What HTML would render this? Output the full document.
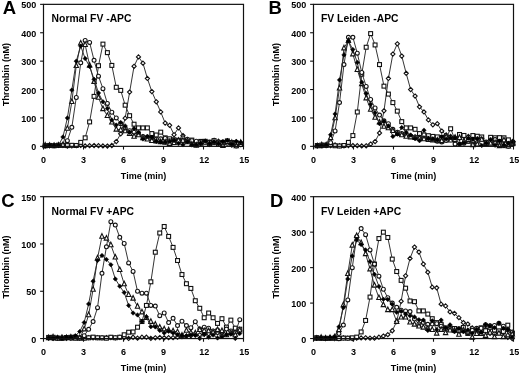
<!DOCTYPE html>
<html><head><meta charset="utf-8"><style>
html,body{margin:0;padding:0;background:#fff;width:520px;height:374px;overflow:hidden;}
svg{display:block;will-change:transform;}
text{font-family:"Liberation Sans", sans-serif;font-weight:bold;fill:#000;}
.tk{font-size:9px;}
.at{font-size:9px;}
.tt{font-size:10.35px;}
.lt{font-size:18.5px;}
.ln{fill:none;stroke:#2a2a2a;stroke-width:0.95;}
.o{fill:#fff;stroke:#111;stroke-width:1.1;}
.f{fill:#000;stroke:#000;stroke-width:0.5;}
.box{fill:none;stroke:#111;stroke-width:1.2;}
.ax{stroke:#111;stroke-width:1.1;}
</style></head>
<body><svg width="520" height="374" viewBox="0 0 520 374">
<rect width="520" height="374" fill="#fff"/>
<path d="M45.17 145.75L49.61 145.86L54.06 145.69L58.50 145.31L62.94 145.25L67.39 146.11L71.83 145.93L76.28 145.71L80.72 145.41L85.17 145.89L89.61 145.64L94.06 145.58L98.50 145.70L102.94 145.88L107.39 146.10L111.83 145.50L116.28 141.52L120.72 133.85L125.17 118.23L129.61 92.10L134.06 66.26L138.50 56.89L142.94 63.14L147.39 78.47L151.83 91.54L156.28 101.76L160.72 111.98L165.17 123.06L169.61 125.33L174.06 134.71L178.50 127.89L182.94 135.56L187.39 140.67L191.83 142.09L196.28 143.69L200.72 143.09L205.17 141.29L209.61 144.44L214.06 140.33L218.50 141.25L222.94 143.54L227.39 141.24L231.83 145.21L236.28 141.72L240.72 144.38" class="ln"/>
<path d="M45.17 143.65L47.27 145.75L45.17 147.85L43.07 145.75Z" class="o"/>
<path d="M49.61 143.76L51.71 145.86L49.61 147.96L47.51 145.86Z" class="o"/>
<path d="M54.06 143.59L56.16 145.69L54.06 147.79L51.96 145.69Z" class="o"/>
<path d="M58.50 143.21L60.60 145.31L58.50 147.41L56.40 145.31Z" class="o"/>
<path d="M62.94 143.15L65.04 145.25L62.94 147.35L60.84 145.25Z" class="o"/>
<path d="M67.39 144.01L69.49 146.11L67.39 148.21L65.29 146.11Z" class="o"/>
<path d="M71.83 143.83L73.93 145.93L71.83 148.03L69.73 145.93Z" class="o"/>
<path d="M76.28 143.61L78.38 145.71L76.28 147.81L74.18 145.71Z" class="o"/>
<path d="M80.72 143.31L82.82 145.41L80.72 147.51L78.62 145.41Z" class="o"/>
<path d="M85.17 143.79L87.27 145.89L85.17 147.99L83.07 145.89Z" class="o"/>
<path d="M89.61 143.54L91.71 145.64L89.61 147.74L87.51 145.64Z" class="o"/>
<path d="M94.06 143.48L96.16 145.58L94.06 147.68L91.96 145.58Z" class="o"/>
<path d="M98.50 143.60L100.60 145.70L98.50 147.80L96.40 145.70Z" class="o"/>
<path d="M102.94 143.78L105.04 145.88L102.94 147.98L100.84 145.88Z" class="o"/>
<path d="M107.39 144.00L109.49 146.10L107.39 148.20L105.29 146.10Z" class="o"/>
<path d="M111.83 143.40L113.93 145.50L111.83 147.60L109.73 145.50Z" class="o"/>
<path d="M116.28 139.42L118.38 141.52L116.28 143.62L114.18 141.52Z" class="o"/>
<path d="M120.72 131.75L122.82 133.85L120.72 135.95L118.62 133.85Z" class="o"/>
<path d="M125.17 116.13L127.27 118.23L125.17 120.33L123.07 118.23Z" class="o"/>
<path d="M129.61 90.00L131.71 92.10L129.61 94.20L127.51 92.10Z" class="o"/>
<path d="M134.06 64.16L136.16 66.26L134.06 68.36L131.96 66.26Z" class="o"/>
<path d="M138.50 54.79L140.60 56.89L138.50 58.99L136.40 56.89Z" class="o"/>
<path d="M142.94 61.04L145.04 63.14L142.94 65.24L140.84 63.14Z" class="o"/>
<path d="M147.39 76.37L149.49 78.47L147.39 80.57L145.29 78.47Z" class="o"/>
<path d="M151.83 89.44L153.93 91.54L151.83 93.64L149.73 91.54Z" class="o"/>
<path d="M156.28 99.66L158.38 101.76L156.28 103.86L154.18 101.76Z" class="o"/>
<path d="M160.72 109.88L162.82 111.98L160.72 114.08L158.62 111.98Z" class="o"/>
<path d="M165.17 120.96L167.27 123.06L165.17 125.16L163.07 123.06Z" class="o"/>
<path d="M169.61 123.23L171.71 125.33L169.61 127.43L167.51 125.33Z" class="o"/>
<path d="M174.06 132.61L176.16 134.71L174.06 136.81L171.96 134.71Z" class="o"/>
<path d="M178.50 125.79L180.60 127.89L178.50 129.99L176.40 127.89Z" class="o"/>
<path d="M182.94 133.46L185.04 135.56L182.94 137.66L180.84 135.56Z" class="o"/>
<path d="M187.39 138.57L189.49 140.67L187.39 142.77L185.29 140.67Z" class="o"/>
<path d="M191.83 139.99L193.93 142.09L191.83 144.19L189.73 142.09Z" class="o"/>
<path d="M196.28 141.59L198.38 143.69L196.28 145.79L194.18 143.69Z" class="o"/>
<path d="M200.72 140.99L202.82 143.09L200.72 145.19L198.62 143.09Z" class="o"/>
<path d="M205.17 139.19L207.27 141.29L205.17 143.39L203.07 141.29Z" class="o"/>
<path d="M209.61 142.34L211.71 144.44L209.61 146.54L207.51 144.44Z" class="o"/>
<path d="M214.06 138.23L216.16 140.33L214.06 142.43L211.96 140.33Z" class="o"/>
<path d="M218.50 139.15L220.60 141.25L218.50 143.35L216.40 141.25Z" class="o"/>
<path d="M222.94 141.44L225.04 143.54L222.94 145.64L220.84 143.54Z" class="o"/>
<path d="M227.39 139.14L229.49 141.24L227.39 143.34L225.29 141.24Z" class="o"/>
<path d="M231.83 143.11L233.93 145.21L231.83 147.31L229.73 145.21Z" class="o"/>
<path d="M236.28 139.62L238.38 141.72L236.28 143.82L234.18 141.72Z" class="o"/>
<path d="M240.72 142.28L242.82 144.38L240.72 146.48L238.62 144.38Z" class="o"/>
<path d="M45.17 145.84L49.61 145.43L54.06 145.82L58.50 145.19L62.94 145.36L67.39 145.58L71.83 145.30L76.28 145.50L80.72 142.37L85.17 137.83L89.61 121.92L94.06 96.37L98.50 65.69L102.94 44.11L107.39 52.63L111.83 65.41L116.28 87.28L120.72 90.40L125.17 105.17L129.61 115.68L134.06 124.20L138.50 127.89L142.94 127.89L147.39 127.89L151.83 133.57L156.28 134.99L160.72 132.15L165.17 137.83L169.61 138.78L174.06 139.72L178.50 140.67L182.94 140.66L187.39 141.73L191.83 140.08L196.28 143.10L200.72 141.40L205.17 141.33L209.61 142.17L214.06 140.61L218.50 143.00L222.94 142.37L227.39 140.89L231.83 142.53L236.28 142.84L240.72 143.96" class="ln"/>
<rect x="43.22" y="143.89" width="3.90" height="3.90" class="o"/>
<rect x="47.66" y="143.48" width="3.90" height="3.90" class="o"/>
<rect x="52.11" y="143.87" width="3.90" height="3.90" class="o"/>
<rect x="56.55" y="143.24" width="3.90" height="3.90" class="o"/>
<rect x="60.99" y="143.41" width="3.90" height="3.90" class="o"/>
<rect x="65.44" y="143.63" width="3.90" height="3.90" class="o"/>
<rect x="69.88" y="143.35" width="3.90" height="3.90" class="o"/>
<rect x="74.33" y="143.55" width="3.90" height="3.90" class="o"/>
<rect x="78.77" y="140.42" width="3.90" height="3.90" class="o"/>
<rect x="83.22" y="135.88" width="3.90" height="3.90" class="o"/>
<rect x="87.66" y="119.97" width="3.90" height="3.90" class="o"/>
<rect x="92.11" y="94.42" width="3.90" height="3.90" class="o"/>
<rect x="96.55" y="63.74" width="3.90" height="3.90" class="o"/>
<rect x="100.99" y="42.16" width="3.90" height="3.90" class="o"/>
<rect x="105.44" y="50.68" width="3.90" height="3.90" class="o"/>
<rect x="109.88" y="63.46" width="3.90" height="3.90" class="o"/>
<rect x="114.33" y="85.33" width="3.90" height="3.90" class="o"/>
<rect x="118.77" y="88.45" width="3.90" height="3.90" class="o"/>
<rect x="123.22" y="103.22" width="3.90" height="3.90" class="o"/>
<rect x="127.66" y="113.73" width="3.90" height="3.90" class="o"/>
<rect x="132.11" y="122.25" width="3.90" height="3.90" class="o"/>
<rect x="136.55" y="125.94" width="3.90" height="3.90" class="o"/>
<rect x="140.99" y="125.94" width="3.90" height="3.90" class="o"/>
<rect x="145.44" y="125.94" width="3.90" height="3.90" class="o"/>
<rect x="149.88" y="131.62" width="3.90" height="3.90" class="o"/>
<rect x="154.33" y="133.04" width="3.90" height="3.90" class="o"/>
<rect x="158.77" y="130.20" width="3.90" height="3.90" class="o"/>
<rect x="163.22" y="135.88" width="3.90" height="3.90" class="o"/>
<rect x="167.66" y="136.83" width="3.90" height="3.90" class="o"/>
<rect x="172.11" y="137.77" width="3.90" height="3.90" class="o"/>
<rect x="176.55" y="138.72" width="3.90" height="3.90" class="o"/>
<rect x="180.99" y="138.71" width="3.90" height="3.90" class="o"/>
<rect x="185.44" y="139.78" width="3.90" height="3.90" class="o"/>
<rect x="189.88" y="138.13" width="3.90" height="3.90" class="o"/>
<rect x="194.33" y="141.15" width="3.90" height="3.90" class="o"/>
<rect x="198.77" y="139.45" width="3.90" height="3.90" class="o"/>
<rect x="203.22" y="139.38" width="3.90" height="3.90" class="o"/>
<rect x="207.66" y="140.22" width="3.90" height="3.90" class="o"/>
<rect x="212.11" y="138.66" width="3.90" height="3.90" class="o"/>
<rect x="216.55" y="141.05" width="3.90" height="3.90" class="o"/>
<rect x="220.99" y="140.42" width="3.90" height="3.90" class="o"/>
<rect x="225.44" y="138.94" width="3.90" height="3.90" class="o"/>
<rect x="229.88" y="140.58" width="3.90" height="3.90" class="o"/>
<rect x="234.33" y="140.89" width="3.90" height="3.90" class="o"/>
<rect x="238.77" y="142.01" width="3.90" height="3.90" class="o"/>
<path d="M45.17 145.50L49.61 145.54L54.06 145.21L58.50 145.58L62.94 144.93L67.39 140.67L71.83 127.32L76.28 97.50L80.72 62.86L85.17 40.42L89.61 42.41L94.06 60.30L98.50 76.20L102.94 88.70L107.39 103.46L111.83 112.27L116.28 117.95L120.72 123.63L125.17 127.89L129.61 130.73L134.06 132.15L138.50 133.57L142.94 136.41L147.39 137.12L151.83 137.83L156.28 139.25L160.72 138.82L165.17 138.40L169.61 140.67L174.06 140.39L178.50 140.10L182.94 137.83L187.39 139.25L191.83 140.67L196.28 141.14L200.72 141.62L205.17 142.09L209.61 142.37L214.06 142.66L218.50 142.94L222.94 143.13L227.39 143.32L231.83 143.51L236.28 146.11L240.72 144.84" class="ln"/>
<circle cx="45.17" cy="145.50" r="1.95" class="o"/>
<circle cx="49.61" cy="145.54" r="1.95" class="o"/>
<circle cx="54.06" cy="145.21" r="1.95" class="o"/>
<circle cx="58.50" cy="145.58" r="1.95" class="o"/>
<circle cx="62.94" cy="144.93" r="1.95" class="o"/>
<circle cx="67.39" cy="140.67" r="1.95" class="o"/>
<circle cx="71.83" cy="127.32" r="1.95" class="o"/>
<circle cx="76.28" cy="97.50" r="1.95" class="o"/>
<circle cx="80.72" cy="62.86" r="1.95" class="o"/>
<circle cx="85.17" cy="40.42" r="1.95" class="o"/>
<circle cx="89.61" cy="42.41" r="1.95" class="o"/>
<circle cx="94.06" cy="60.30" r="1.95" class="o"/>
<circle cx="98.50" cy="76.20" r="1.95" class="o"/>
<circle cx="102.94" cy="88.70" r="1.95" class="o"/>
<circle cx="107.39" cy="103.46" r="1.95" class="o"/>
<circle cx="111.83" cy="112.27" r="1.95" class="o"/>
<circle cx="116.28" cy="117.95" r="1.95" class="o"/>
<circle cx="120.72" cy="123.63" r="1.95" class="o"/>
<circle cx="125.17" cy="127.89" r="1.95" class="o"/>
<circle cx="129.61" cy="130.73" r="1.95" class="o"/>
<circle cx="134.06" cy="132.15" r="1.95" class="o"/>
<circle cx="138.50" cy="133.57" r="1.95" class="o"/>
<circle cx="142.94" cy="136.41" r="1.95" class="o"/>
<circle cx="147.39" cy="137.12" r="1.95" class="o"/>
<circle cx="151.83" cy="137.83" r="1.95" class="o"/>
<circle cx="156.28" cy="139.25" r="1.95" class="o"/>
<circle cx="160.72" cy="138.82" r="1.95" class="o"/>
<circle cx="165.17" cy="138.40" r="1.95" class="o"/>
<circle cx="169.61" cy="140.67" r="1.95" class="o"/>
<circle cx="174.06" cy="140.39" r="1.95" class="o"/>
<circle cx="178.50" cy="140.10" r="1.95" class="o"/>
<circle cx="182.94" cy="137.83" r="1.95" class="o"/>
<circle cx="187.39" cy="139.25" r="1.95" class="o"/>
<circle cx="191.83" cy="140.67" r="1.95" class="o"/>
<circle cx="196.28" cy="141.14" r="1.95" class="o"/>
<circle cx="200.72" cy="141.62" r="1.95" class="o"/>
<circle cx="205.17" cy="142.09" r="1.95" class="o"/>
<circle cx="209.61" cy="142.37" r="1.95" class="o"/>
<circle cx="214.06" cy="142.66" r="1.95" class="o"/>
<circle cx="218.50" cy="142.94" r="1.95" class="o"/>
<circle cx="222.94" cy="143.13" r="1.95" class="o"/>
<circle cx="227.39" cy="143.32" r="1.95" class="o"/>
<circle cx="231.83" cy="143.51" r="1.95" class="o"/>
<circle cx="236.28" cy="146.11" r="1.95" class="o"/>
<circle cx="240.72" cy="144.84" r="1.95" class="o"/>
<path d="M45.17 145.31L49.61 145.60L54.06 145.71L58.50 145.23L62.94 144.93L67.39 128.46L71.83 101.76L76.28 65.69L80.72 43.26L85.17 44.68L89.61 65.41L94.06 81.60L98.50 97.50L102.94 108.86L107.39 115.68L111.83 122.21L116.28 129.31L120.72 129.88L125.17 131.01L129.61 133.57L134.06 136.41L138.50 134.99L142.94 137.83L147.39 139.25L151.83 140.67L156.28 141.24L160.72 141.81L165.17 142.37L169.61 143.53L174.06 142.72L178.50 140.52L182.94 140.42L187.39 140.65L191.83 144.28L196.28 145.32L200.72 143.36L205.17 142.52L209.61 143.91L214.06 142.42L218.50 144.17L222.94 145.76L227.39 141.84L231.83 142.69L236.28 145.94L240.72 142.59" class="ln"/>
<path d="M45.17 142.51L47.37 147.11L42.97 147.11Z" class="o"/>
<path d="M49.61 142.80L51.81 147.40L47.41 147.40Z" class="o"/>
<path d="M54.06 142.91L56.26 147.51L51.86 147.51Z" class="o"/>
<path d="M58.50 142.43L60.70 147.03L56.30 147.03Z" class="o"/>
<path d="M62.94 142.13L65.14 146.73L60.74 146.73Z" class="o"/>
<path d="M67.39 125.66L69.59 130.26L65.19 130.26Z" class="o"/>
<path d="M71.83 98.96L74.03 103.56L69.63 103.56Z" class="o"/>
<path d="M76.28 62.89L78.48 67.49L74.08 67.49Z" class="o"/>
<path d="M80.72 40.46L82.92 45.06L78.52 45.06Z" class="o"/>
<path d="M85.17 41.88L87.37 46.48L82.97 46.48Z" class="o"/>
<path d="M89.61 62.61L91.81 67.21L87.41 67.21Z" class="o"/>
<path d="M94.06 78.80L96.26 83.40L91.86 83.40Z" class="o"/>
<path d="M98.50 94.70L100.70 99.30L96.30 99.30Z" class="o"/>
<path d="M102.94 106.06L105.14 110.66L100.74 110.66Z" class="o"/>
<path d="M107.39 112.88L109.59 117.48L105.19 117.48Z" class="o"/>
<path d="M111.83 119.41L114.03 124.01L109.63 124.01Z" class="o"/>
<path d="M116.28 126.51L118.48 131.11L114.08 131.11Z" class="o"/>
<path d="M120.72 127.08L122.92 131.68L118.52 131.68Z" class="o"/>
<path d="M125.17 128.21L127.37 132.81L122.97 132.81Z" class="o"/>
<path d="M129.61 130.77L131.81 135.37L127.41 135.37Z" class="o"/>
<path d="M134.06 133.61L136.26 138.21L131.86 138.21Z" class="o"/>
<path d="M138.50 132.19L140.70 136.79L136.30 136.79Z" class="o"/>
<path d="M142.94 135.03L145.14 139.63L140.74 139.63Z" class="o"/>
<path d="M147.39 136.45L149.59 141.05L145.19 141.05Z" class="o"/>
<path d="M151.83 137.87L154.03 142.47L149.63 142.47Z" class="o"/>
<path d="M156.28 138.44L158.48 143.04L154.08 143.04Z" class="o"/>
<path d="M160.72 139.01L162.92 143.61L158.52 143.61Z" class="o"/>
<path d="M165.17 139.57L167.37 144.17L162.97 144.17Z" class="o"/>
<path d="M169.61 140.73L171.81 145.33L167.41 145.33Z" class="o"/>
<path d="M174.06 139.92L176.26 144.52L171.86 144.52Z" class="o"/>
<path d="M178.50 137.72L180.70 142.32L176.30 142.32Z" class="o"/>
<path d="M182.94 137.62L185.14 142.22L180.74 142.22Z" class="o"/>
<path d="M187.39 137.85L189.59 142.45L185.19 142.45Z" class="o"/>
<path d="M191.83 141.48L194.03 146.08L189.63 146.08Z" class="o"/>
<path d="M196.28 142.52L198.48 147.12L194.08 147.12Z" class="o"/>
<path d="M200.72 140.56L202.92 145.16L198.52 145.16Z" class="o"/>
<path d="M205.17 139.72L207.37 144.32L202.97 144.32Z" class="o"/>
<path d="M209.61 141.11L211.81 145.71L207.41 145.71Z" class="o"/>
<path d="M214.06 139.62L216.26 144.22L211.86 144.22Z" class="o"/>
<path d="M218.50 141.37L220.70 145.97L216.30 145.97Z" class="o"/>
<path d="M222.94 142.96L225.14 147.56L220.74 147.56Z" class="o"/>
<path d="M227.39 139.04L229.59 143.64L225.19 143.64Z" class="o"/>
<path d="M231.83 139.89L234.03 144.49L229.63 144.49Z" class="o"/>
<path d="M236.28 143.14L238.48 147.74L234.08 147.74Z" class="o"/>
<path d="M240.72 139.79L242.92 144.39L238.52 144.39Z" class="o"/>
<path d="M45.17 146.01L49.61 145.39L54.06 145.49L58.50 145.50L62.94 136.98L67.39 117.95L71.83 90.12L76.28 61.15L80.72 46.10L85.17 58.59L89.61 66.55L94.06 79.32L98.50 92.96L102.94 101.76L107.39 108.58L111.83 119.94L116.28 125.05L120.72 122.49L125.17 125.90L129.61 132.15L134.06 128.46L138.50 132.15L142.94 138.97L147.39 136.41L151.83 137.26L156.28 141.52L160.72 141.95L165.17 142.37L169.61 141.26L174.06 140.50L178.50 143.54L182.94 144.84L187.39 141.77L191.83 144.98L196.28 145.05L200.72 143.46L205.17 141.21L209.61 143.83L214.06 142.29L218.50 143.67L222.94 141.39L227.39 140.45L231.83 143.97L236.28 141.41L240.72 142.31" class="ln"/>
<path d="M45.17 143.76L47.42 146.01L45.17 148.26L42.92 146.01Z" class="f"/>
<path d="M49.61 143.14L51.86 145.39L49.61 147.64L47.36 145.39Z" class="f"/>
<path d="M54.06 143.24L56.31 145.49L54.06 147.74L51.81 145.49Z" class="f"/>
<path d="M58.50 143.25L60.75 145.50L58.50 147.75L56.25 145.50Z" class="f"/>
<path d="M62.94 134.73L65.19 136.98L62.94 139.23L60.69 136.98Z" class="f"/>
<path d="M67.39 115.70L69.64 117.95L67.39 120.20L65.14 117.95Z" class="f"/>
<path d="M71.83 87.87L74.08 90.12L71.83 92.37L69.58 90.12Z" class="f"/>
<path d="M76.28 58.90L78.53 61.15L76.28 63.40L74.03 61.15Z" class="f"/>
<path d="M80.72 43.85L82.97 46.10L80.72 48.35L78.47 46.10Z" class="f"/>
<path d="M85.17 56.34L87.42 58.59L85.17 60.84L82.92 58.59Z" class="f"/>
<path d="M89.61 64.30L91.86 66.55L89.61 68.80L87.36 66.55Z" class="f"/>
<path d="M94.06 77.07L96.31 79.32L94.06 81.57L91.81 79.32Z" class="f"/>
<path d="M98.50 90.71L100.75 92.96L98.50 95.21L96.25 92.96Z" class="f"/>
<path d="M102.94 99.51L105.19 101.76L102.94 104.01L100.69 101.76Z" class="f"/>
<path d="M107.39 106.33L109.64 108.58L107.39 110.83L105.14 108.58Z" class="f"/>
<path d="M111.83 117.69L114.08 119.94L111.83 122.19L109.58 119.94Z" class="f"/>
<path d="M116.28 122.80L118.53 125.05L116.28 127.30L114.03 125.05Z" class="f"/>
<path d="M120.72 120.24L122.97 122.49L120.72 124.74L118.47 122.49Z" class="f"/>
<path d="M125.17 123.65L127.42 125.90L125.17 128.15L122.92 125.90Z" class="f"/>
<path d="M129.61 129.90L131.86 132.15L129.61 134.40L127.36 132.15Z" class="f"/>
<path d="M134.06 126.21L136.31 128.46L134.06 130.71L131.81 128.46Z" class="f"/>
<path d="M138.50 129.90L140.75 132.15L138.50 134.40L136.25 132.15Z" class="f"/>
<path d="M142.94 136.72L145.19 138.97L142.94 141.22L140.69 138.97Z" class="f"/>
<path d="M147.39 134.16L149.64 136.41L147.39 138.66L145.14 136.41Z" class="f"/>
<path d="M151.83 135.01L154.08 137.26L151.83 139.51L149.58 137.26Z" class="f"/>
<path d="M156.28 139.27L158.53 141.52L156.28 143.77L154.03 141.52Z" class="f"/>
<path d="M160.72 139.70L162.97 141.95L160.72 144.20L158.47 141.95Z" class="f"/>
<path d="M165.17 140.12L167.42 142.37L165.17 144.62L162.92 142.37Z" class="f"/>
<path d="M169.61 139.01L171.86 141.26L169.61 143.51L167.36 141.26Z" class="f"/>
<path d="M174.06 138.25L176.31 140.50L174.06 142.75L171.81 140.50Z" class="f"/>
<path d="M178.50 141.29L180.75 143.54L178.50 145.79L176.25 143.54Z" class="f"/>
<path d="M182.94 142.59L185.19 144.84L182.94 147.09L180.69 144.84Z" class="f"/>
<path d="M187.39 139.52L189.64 141.77L187.39 144.02L185.14 141.77Z" class="f"/>
<path d="M191.83 142.73L194.08 144.98L191.83 147.23L189.58 144.98Z" class="f"/>
<path d="M196.28 142.80L198.53 145.05L196.28 147.30L194.03 145.05Z" class="f"/>
<path d="M200.72 141.21L202.97 143.46L200.72 145.71L198.47 143.46Z" class="f"/>
<path d="M205.17 138.96L207.42 141.21L205.17 143.46L202.92 141.21Z" class="f"/>
<path d="M209.61 141.58L211.86 143.83L209.61 146.08L207.36 143.83Z" class="f"/>
<path d="M214.06 140.04L216.31 142.29L214.06 144.54L211.81 142.29Z" class="f"/>
<path d="M218.50 141.42L220.75 143.67L218.50 145.92L216.25 143.67Z" class="f"/>
<path d="M222.94 139.14L225.19 141.39L222.94 143.64L220.69 141.39Z" class="f"/>
<path d="M227.39 138.20L229.64 140.45L227.39 142.70L225.14 140.45Z" class="f"/>
<path d="M231.83 141.72L234.08 143.97L231.83 146.22L229.58 143.97Z" class="f"/>
<path d="M236.28 139.16L238.53 141.41L236.28 143.66L234.03 141.41Z" class="f"/>
<path d="M240.72 140.06L242.97 142.31L240.72 144.56L238.47 142.31Z" class="f"/>
<rect x="43.5" y="4.35" width="200.0" height="142.0" class="box"/>
<line x1="40.1" y1="146.35" x2="43.5" y2="146.35" class="ax"/>
<text x="36.3" y="150.30" class="tk" text-anchor="end">0</text>
<line x1="40.1" y1="117.95" x2="43.5" y2="117.95" class="ax"/>
<text x="36.3" y="121.90" class="tk" text-anchor="end">100</text>
<line x1="40.1" y1="89.55" x2="43.5" y2="89.55" class="ax"/>
<text x="36.3" y="93.50" class="tk" text-anchor="end">200</text>
<line x1="40.1" y1="61.15" x2="43.5" y2="61.15" class="ax"/>
<text x="36.3" y="65.10" class="tk" text-anchor="end">300</text>
<line x1="40.1" y1="32.75" x2="43.5" y2="32.75" class="ax"/>
<text x="36.3" y="36.70" class="tk" text-anchor="end">400</text>
<line x1="40.1" y1="4.35" x2="43.5" y2="4.35" class="ax"/>
<text x="36.3" y="8.30" class="tk" text-anchor="end">500</text>
<line x1="43.50" y1="146.35" x2="43.50" y2="149.54999999999998" class="ax"/>
<text x="43.50" y="163.20" class="tk" text-anchor="middle">0</text>
<line x1="83.50" y1="146.35" x2="83.50" y2="149.54999999999998" class="ax"/>
<text x="83.50" y="163.20" class="tk" text-anchor="middle">3</text>
<line x1="123.50" y1="146.35" x2="123.50" y2="149.54999999999998" class="ax"/>
<text x="123.50" y="163.20" class="tk" text-anchor="middle">6</text>
<line x1="163.50" y1="146.35" x2="163.50" y2="149.54999999999998" class="ax"/>
<text x="163.50" y="163.20" class="tk" text-anchor="middle">9</text>
<line x1="203.50" y1="146.35" x2="203.50" y2="149.54999999999998" class="ax"/>
<text x="204.20" y="163.20" class="tk" text-anchor="middle">12</text>
<line x1="243.50" y1="146.35" x2="243.50" y2="149.54999999999998" class="ax"/>
<text x="244.20" y="163.20" class="tk" text-anchor="middle">15</text>
<text x="143.50" y="178.65" class="at" text-anchor="middle">Time (min)</text>
<text transform="translate(8.90 74.40) rotate(-90)" class="at" text-anchor="middle">Thrombin (nM)</text>
<text x="51.6" y="22.0" class="tt">Normal FV -APC</text>
<text x="2.85" y="14.3" class="lt">A</text>
<path d="M317.30 145.85L321.74 145.24L326.19 145.18L330.63 145.72L335.08 145.00L339.52 145.68L343.97 145.82L348.41 145.56L352.86 145.59L357.30 145.71L361.74 145.99L366.19 145.82L370.63 144.08L375.08 141.52L379.52 133.00L383.97 110.85L388.41 78.47L392.86 54.05L397.30 43.83L401.74 56.04L406.19 73.36L410.63 89.55L415.08 96.08L419.52 106.87L423.97 111.99L428.41 119.94L432.86 124.77L437.30 123.63L441.74 131.01L446.19 134.99L450.63 136.41L455.08 137.40L459.52 138.40L463.97 136.60L468.41 136.48L472.86 141.95L477.30 138.01L481.74 138.31L486.19 143.55L490.63 139.46L495.08 142.29L499.52 140.51L503.97 141.06L508.41 142.01L512.86 141.40" class="ln"/>
<path d="M317.30 143.75L319.40 145.85L317.30 147.95L315.20 145.85Z" class="o"/>
<path d="M321.74 143.14L323.84 145.24L321.74 147.34L319.64 145.24Z" class="o"/>
<path d="M326.19 143.08L328.29 145.18L326.19 147.28L324.09 145.18Z" class="o"/>
<path d="M330.63 143.62L332.73 145.72L330.63 147.82L328.53 145.72Z" class="o"/>
<path d="M335.08 142.90L337.18 145.00L335.08 147.10L332.98 145.00Z" class="o"/>
<path d="M339.52 143.58L341.62 145.68L339.52 147.78L337.42 145.68Z" class="o"/>
<path d="M343.97 143.72L346.07 145.82L343.97 147.92L341.87 145.82Z" class="o"/>
<path d="M348.41 143.46L350.51 145.56L348.41 147.66L346.31 145.56Z" class="o"/>
<path d="M352.86 143.49L354.96 145.59L352.86 147.69L350.76 145.59Z" class="o"/>
<path d="M357.30 143.61L359.40 145.71L357.30 147.81L355.20 145.71Z" class="o"/>
<path d="M361.74 143.89L363.84 145.99L361.74 148.09L359.64 145.99Z" class="o"/>
<path d="M366.19 143.72L368.29 145.82L366.19 147.92L364.09 145.82Z" class="o"/>
<path d="M370.63 141.98L372.73 144.08L370.63 146.18L368.53 144.08Z" class="o"/>
<path d="M375.08 139.42L377.18 141.52L375.08 143.62L372.98 141.52Z" class="o"/>
<path d="M379.52 130.90L381.62 133.00L379.52 135.10L377.42 133.00Z" class="o"/>
<path d="M383.97 108.75L386.07 110.85L383.97 112.95L381.87 110.85Z" class="o"/>
<path d="M388.41 76.37L390.51 78.47L388.41 80.57L386.31 78.47Z" class="o"/>
<path d="M392.86 51.95L394.96 54.05L392.86 56.15L390.76 54.05Z" class="o"/>
<path d="M397.30 41.73L399.40 43.83L397.30 45.93L395.20 43.83Z" class="o"/>
<path d="M401.74 53.94L403.84 56.04L401.74 58.14L399.64 56.04Z" class="o"/>
<path d="M406.19 71.26L408.29 73.36L406.19 75.46L404.09 73.36Z" class="o"/>
<path d="M410.63 87.45L412.73 89.55L410.63 91.65L408.53 89.55Z" class="o"/>
<path d="M415.08 93.98L417.18 96.08L415.08 98.18L412.98 96.08Z" class="o"/>
<path d="M419.52 104.77L421.62 106.87L419.52 108.97L417.42 106.87Z" class="o"/>
<path d="M423.97 109.89L426.07 111.99L423.97 114.09L421.87 111.99Z" class="o"/>
<path d="M428.41 117.84L430.51 119.94L428.41 122.04L426.31 119.94Z" class="o"/>
<path d="M432.86 122.67L434.96 124.77L432.86 126.87L430.76 124.77Z" class="o"/>
<path d="M437.30 121.53L439.40 123.63L437.30 125.73L435.20 123.63Z" class="o"/>
<path d="M441.74 128.91L443.84 131.01L441.74 133.11L439.64 131.01Z" class="o"/>
<path d="M446.19 132.89L448.29 134.99L446.19 137.09L444.09 134.99Z" class="o"/>
<path d="M450.63 134.31L452.73 136.41L450.63 138.51L448.53 136.41Z" class="o"/>
<path d="M455.08 135.30L457.18 137.40L455.08 139.50L452.98 137.40Z" class="o"/>
<path d="M459.52 136.30L461.62 138.40L459.52 140.50L457.42 138.40Z" class="o"/>
<path d="M463.97 134.50L466.07 136.60L463.97 138.70L461.87 136.60Z" class="o"/>
<path d="M468.41 134.38L470.51 136.48L468.41 138.58L466.31 136.48Z" class="o"/>
<path d="M472.86 139.85L474.96 141.95L472.86 144.05L470.76 141.95Z" class="o"/>
<path d="M477.30 135.91L479.40 138.01L477.30 140.11L475.20 138.01Z" class="o"/>
<path d="M481.74 136.21L483.84 138.31L481.74 140.41L479.64 138.31Z" class="o"/>
<path d="M486.19 141.45L488.29 143.55L486.19 145.65L484.09 143.55Z" class="o"/>
<path d="M490.63 137.36L492.73 139.46L490.63 141.56L488.53 139.46Z" class="o"/>
<path d="M495.08 140.19L497.18 142.29L495.08 144.39L492.98 142.29Z" class="o"/>
<path d="M499.52 138.41L501.62 140.51L499.52 142.61L497.42 140.51Z" class="o"/>
<path d="M503.97 138.96L506.07 141.06L503.97 143.16L501.87 141.06Z" class="o"/>
<path d="M508.41 139.91L510.51 142.01L508.41 144.11L506.31 142.01Z" class="o"/>
<path d="M512.86 139.30L514.96 141.40L512.86 143.50L510.76 141.40Z" class="o"/>
<path d="M317.30 145.53L321.74 145.11L326.19 145.15L330.63 145.02L335.08 145.76L339.52 146.01L343.97 145.50L348.41 142.37L352.86 135.56L357.30 111.99L361.74 74.21L366.19 47.24L370.63 33.60L375.08 44.96L379.52 64.56L383.97 86.14L388.41 94.09L392.86 102.61L397.30 111.13L401.74 121.64L406.19 127.89L410.63 127.89L415.08 129.31L419.52 133.57L423.97 134.99L428.41 135.70L432.86 136.41L437.30 136.88L441.74 137.36L446.19 137.83L450.63 128.74L455.08 139.59L459.52 134.48L463.97 135.46L468.41 141.22L472.86 135.54L477.30 136.24L481.74 136.96L486.19 142.77L490.63 137.34L495.08 137.76L499.52 137.64L503.97 137.80L508.41 139.85L512.86 143.73" class="ln"/>
<rect x="315.35" y="143.58" width="3.90" height="3.90" class="o"/>
<rect x="319.79" y="143.16" width="3.90" height="3.90" class="o"/>
<rect x="324.24" y="143.20" width="3.90" height="3.90" class="o"/>
<rect x="328.68" y="143.07" width="3.90" height="3.90" class="o"/>
<rect x="333.13" y="143.81" width="3.90" height="3.90" class="o"/>
<rect x="337.57" y="144.06" width="3.90" height="3.90" class="o"/>
<rect x="342.02" y="143.55" width="3.90" height="3.90" class="o"/>
<rect x="346.46" y="140.42" width="3.90" height="3.90" class="o"/>
<rect x="350.91" y="133.61" width="3.90" height="3.90" class="o"/>
<rect x="355.35" y="110.04" width="3.90" height="3.90" class="o"/>
<rect x="359.79" y="72.26" width="3.90" height="3.90" class="o"/>
<rect x="364.24" y="45.29" width="3.90" height="3.90" class="o"/>
<rect x="368.68" y="31.65" width="3.90" height="3.90" class="o"/>
<rect x="373.13" y="43.01" width="3.90" height="3.90" class="o"/>
<rect x="377.57" y="62.61" width="3.90" height="3.90" class="o"/>
<rect x="382.02" y="84.19" width="3.90" height="3.90" class="o"/>
<rect x="386.46" y="92.14" width="3.90" height="3.90" class="o"/>
<rect x="390.91" y="100.66" width="3.90" height="3.90" class="o"/>
<rect x="395.35" y="109.18" width="3.90" height="3.90" class="o"/>
<rect x="399.79" y="119.69" width="3.90" height="3.90" class="o"/>
<rect x="404.24" y="125.94" width="3.90" height="3.90" class="o"/>
<rect x="408.68" y="125.94" width="3.90" height="3.90" class="o"/>
<rect x="413.13" y="127.36" width="3.90" height="3.90" class="o"/>
<rect x="417.57" y="131.62" width="3.90" height="3.90" class="o"/>
<rect x="422.02" y="133.04" width="3.90" height="3.90" class="o"/>
<rect x="426.46" y="133.75" width="3.90" height="3.90" class="o"/>
<rect x="430.91" y="134.46" width="3.90" height="3.90" class="o"/>
<rect x="435.35" y="134.93" width="3.90" height="3.90" class="o"/>
<rect x="439.79" y="135.41" width="3.90" height="3.90" class="o"/>
<rect x="444.24" y="135.88" width="3.90" height="3.90" class="o"/>
<rect x="448.68" y="126.79" width="3.90" height="3.90" class="o"/>
<rect x="453.13" y="137.64" width="3.90" height="3.90" class="o"/>
<rect x="457.57" y="132.53" width="3.90" height="3.90" class="o"/>
<rect x="462.02" y="133.51" width="3.90" height="3.90" class="o"/>
<rect x="466.46" y="139.27" width="3.90" height="3.90" class="o"/>
<rect x="470.91" y="133.59" width="3.90" height="3.90" class="o"/>
<rect x="475.35" y="134.29" width="3.90" height="3.90" class="o"/>
<rect x="479.79" y="135.01" width="3.90" height="3.90" class="o"/>
<rect x="484.24" y="140.82" width="3.90" height="3.90" class="o"/>
<rect x="488.68" y="135.39" width="3.90" height="3.90" class="o"/>
<rect x="493.13" y="135.81" width="3.90" height="3.90" class="o"/>
<rect x="497.57" y="135.69" width="3.90" height="3.90" class="o"/>
<rect x="502.02" y="135.85" width="3.90" height="3.90" class="o"/>
<rect x="506.46" y="137.90" width="3.90" height="3.90" class="o"/>
<rect x="510.91" y="141.78" width="3.90" height="3.90" class="o"/>
<path d="M317.30 145.79L321.74 145.92L326.19 145.85L330.63 142.66L335.08 131.01L339.52 102.62L343.97 64.56L348.41 37.29L352.86 37.29L357.30 53.20L361.74 72.51L366.19 86.42L370.63 99.49L375.08 108.01L379.52 115.11L383.97 120.79L388.41 123.63L392.86 129.31L397.30 132.15L401.74 133.57L406.19 134.99L410.63 135.94L415.08 136.88L419.52 137.83L423.97 138.30L428.41 138.78L432.86 139.25L437.30 141.28L441.74 141.90L446.19 140.41L450.63 139.79L455.08 144.07L459.52 144.07L463.97 143.26L468.41 141.22L472.86 144.50L477.30 142.57L481.74 139.16L486.19 142.11L490.63 142.47L495.08 139.62L499.52 142.70L503.97 145.84L508.41 146.15L512.86 141.78" class="ln"/>
<circle cx="317.30" cy="145.79" r="1.95" class="o"/>
<circle cx="321.74" cy="145.92" r="1.95" class="o"/>
<circle cx="326.19" cy="145.85" r="1.95" class="o"/>
<circle cx="330.63" cy="142.66" r="1.95" class="o"/>
<circle cx="335.08" cy="131.01" r="1.95" class="o"/>
<circle cx="339.52" cy="102.62" r="1.95" class="o"/>
<circle cx="343.97" cy="64.56" r="1.95" class="o"/>
<circle cx="348.41" cy="37.29" r="1.95" class="o"/>
<circle cx="352.86" cy="37.29" r="1.95" class="o"/>
<circle cx="357.30" cy="53.20" r="1.95" class="o"/>
<circle cx="361.74" cy="72.51" r="1.95" class="o"/>
<circle cx="366.19" cy="86.42" r="1.95" class="o"/>
<circle cx="370.63" cy="99.49" r="1.95" class="o"/>
<circle cx="375.08" cy="108.01" r="1.95" class="o"/>
<circle cx="379.52" cy="115.11" r="1.95" class="o"/>
<circle cx="383.97" cy="120.79" r="1.95" class="o"/>
<circle cx="388.41" cy="123.63" r="1.95" class="o"/>
<circle cx="392.86" cy="129.31" r="1.95" class="o"/>
<circle cx="397.30" cy="132.15" r="1.95" class="o"/>
<circle cx="401.74" cy="133.57" r="1.95" class="o"/>
<circle cx="406.19" cy="134.99" r="1.95" class="o"/>
<circle cx="410.63" cy="135.94" r="1.95" class="o"/>
<circle cx="415.08" cy="136.88" r="1.95" class="o"/>
<circle cx="419.52" cy="137.83" r="1.95" class="o"/>
<circle cx="423.97" cy="138.30" r="1.95" class="o"/>
<circle cx="428.41" cy="138.78" r="1.95" class="o"/>
<circle cx="432.86" cy="139.25" r="1.95" class="o"/>
<circle cx="437.30" cy="141.28" r="1.95" class="o"/>
<circle cx="441.74" cy="141.90" r="1.95" class="o"/>
<circle cx="446.19" cy="140.41" r="1.95" class="o"/>
<circle cx="450.63" cy="139.79" r="1.95" class="o"/>
<circle cx="455.08" cy="144.07" r="1.95" class="o"/>
<circle cx="459.52" cy="144.07" r="1.95" class="o"/>
<circle cx="463.97" cy="143.26" r="1.95" class="o"/>
<circle cx="468.41" cy="141.22" r="1.95" class="o"/>
<circle cx="472.86" cy="144.50" r="1.95" class="o"/>
<circle cx="477.30" cy="142.57" r="1.95" class="o"/>
<circle cx="481.74" cy="139.16" r="1.95" class="o"/>
<circle cx="486.19" cy="142.11" r="1.95" class="o"/>
<circle cx="490.63" cy="142.47" r="1.95" class="o"/>
<circle cx="495.08" cy="139.62" r="1.95" class="o"/>
<circle cx="499.52" cy="142.70" r="1.95" class="o"/>
<circle cx="503.97" cy="145.84" r="1.95" class="o"/>
<circle cx="508.41" cy="146.15" r="1.95" class="o"/>
<circle cx="512.86" cy="141.78" r="1.95" class="o"/>
<path d="M317.30 145.99L321.74 144.96L326.19 144.96L330.63 137.83L335.08 117.95L339.52 88.13L343.97 48.09L348.41 40.70L352.86 54.05L357.30 69.67L361.74 83.87L366.19 98.07L370.63 109.43L375.08 117.38L379.52 122.21L383.97 126.47L388.41 127.89L392.86 130.73L397.30 133.57L401.74 134.99L406.19 136.41L410.63 137.07L415.08 137.74L419.52 138.40L423.97 138.97L428.41 139.53L432.86 140.10L437.30 140.31L441.74 140.85L446.19 136.71L450.63 140.23L455.08 137.55L459.52 137.68L463.97 141.35L468.41 139.73L472.86 144.87L477.30 144.26L481.74 139.45L486.19 143.81L490.63 143.34L495.08 142.71L499.52 145.80L503.97 139.98L508.41 146.17L512.86 143.05" class="ln"/>
<path d="M317.30 143.19L319.50 147.79L315.10 147.79Z" class="o"/>
<path d="M321.74 142.16L323.94 146.76L319.54 146.76Z" class="o"/>
<path d="M326.19 142.16L328.39 146.76L323.99 146.76Z" class="o"/>
<path d="M330.63 135.03L332.83 139.63L328.43 139.63Z" class="o"/>
<path d="M335.08 115.15L337.28 119.75L332.88 119.75Z" class="o"/>
<path d="M339.52 85.33L341.72 89.93L337.32 89.93Z" class="o"/>
<path d="M343.97 45.29L346.17 49.89L341.77 49.89Z" class="o"/>
<path d="M348.41 37.90L350.61 42.50L346.21 42.50Z" class="o"/>
<path d="M352.86 51.25L355.06 55.85L350.66 55.85Z" class="o"/>
<path d="M357.30 66.87L359.50 71.47L355.10 71.47Z" class="o"/>
<path d="M361.74 81.07L363.94 85.67L359.54 85.67Z" class="o"/>
<path d="M366.19 95.27L368.39 99.87L363.99 99.87Z" class="o"/>
<path d="M370.63 106.63L372.83 111.23L368.43 111.23Z" class="o"/>
<path d="M375.08 114.58L377.28 119.18L372.88 119.18Z" class="o"/>
<path d="M379.52 119.41L381.72 124.01L377.32 124.01Z" class="o"/>
<path d="M383.97 123.67L386.17 128.27L381.77 128.27Z" class="o"/>
<path d="M388.41 125.09L390.61 129.69L386.21 129.69Z" class="o"/>
<path d="M392.86 127.93L395.06 132.53L390.66 132.53Z" class="o"/>
<path d="M397.30 130.77L399.50 135.37L395.10 135.37Z" class="o"/>
<path d="M401.74 132.19L403.94 136.79L399.54 136.79Z" class="o"/>
<path d="M406.19 133.61L408.39 138.21L403.99 138.21Z" class="o"/>
<path d="M410.63 134.27L412.83 138.87L408.43 138.87Z" class="o"/>
<path d="M415.08 134.94L417.28 139.54L412.88 139.54Z" class="o"/>
<path d="M419.52 135.60L421.72 140.20L417.32 140.20Z" class="o"/>
<path d="M423.97 136.17L426.17 140.77L421.77 140.77Z" class="o"/>
<path d="M428.41 136.73L430.61 141.33L426.21 141.33Z" class="o"/>
<path d="M432.86 137.30L435.06 141.90L430.66 141.90Z" class="o"/>
<path d="M437.30 137.51L439.50 142.11L435.10 142.11Z" class="o"/>
<path d="M441.74 138.05L443.94 142.65L439.54 142.65Z" class="o"/>
<path d="M446.19 133.91L448.39 138.51L443.99 138.51Z" class="o"/>
<path d="M450.63 137.43L452.83 142.03L448.43 142.03Z" class="o"/>
<path d="M455.08 134.75L457.28 139.35L452.88 139.35Z" class="o"/>
<path d="M459.52 134.88L461.72 139.48L457.32 139.48Z" class="o"/>
<path d="M463.97 138.55L466.17 143.15L461.77 143.15Z" class="o"/>
<path d="M468.41 136.93L470.61 141.53L466.21 141.53Z" class="o"/>
<path d="M472.86 142.07L475.06 146.67L470.66 146.67Z" class="o"/>
<path d="M477.30 141.46L479.50 146.06L475.10 146.06Z" class="o"/>
<path d="M481.74 136.65L483.94 141.25L479.54 141.25Z" class="o"/>
<path d="M486.19 141.01L488.39 145.61L483.99 145.61Z" class="o"/>
<path d="M490.63 140.54L492.83 145.14L488.43 145.14Z" class="o"/>
<path d="M495.08 139.91L497.28 144.51L492.88 144.51Z" class="o"/>
<path d="M499.52 143.00L501.72 147.60L497.32 147.60Z" class="o"/>
<path d="M503.97 137.18L506.17 141.78L501.77 141.78Z" class="o"/>
<path d="M508.41 143.37L510.61 147.97L506.21 147.97Z" class="o"/>
<path d="M512.86 140.25L515.06 144.85L510.66 144.85Z" class="o"/>
<path d="M317.30 145.89L321.74 145.66L326.19 145.17L330.63 134.71L335.08 113.97L339.52 79.90L343.97 54.90L348.41 40.99L352.86 49.51L357.30 62.57L361.74 82.17L366.19 93.52L370.63 104.32L375.08 112.84L379.52 123.63L383.97 121.36L388.41 125.90L392.86 136.41L397.30 134.14L401.74 127.61L406.19 132.15L410.63 134.99L415.08 138.68L419.52 140.67L423.97 130.16L428.41 138.68L432.86 139.34L437.30 140.01L441.74 136.75L446.19 138.94L450.63 137.66L455.08 138.07L459.52 143.91L463.97 142.71L468.41 138.14L472.86 139.03L477.30 138.47L481.74 145.46L486.19 143.16L490.63 139.39L495.08 145.24L499.52 141.00L503.97 145.34L508.41 143.11L512.86 141.88" class="ln"/>
<path d="M317.30 143.64L319.55 145.89L317.30 148.14L315.05 145.89Z" class="f"/>
<path d="M321.74 143.41L323.99 145.66L321.74 147.91L319.49 145.66Z" class="f"/>
<path d="M326.19 142.92L328.44 145.17L326.19 147.42L323.94 145.17Z" class="f"/>
<path d="M330.63 132.46L332.88 134.71L330.63 136.96L328.38 134.71Z" class="f"/>
<path d="M335.08 111.72L337.33 113.97L335.08 116.22L332.83 113.97Z" class="f"/>
<path d="M339.52 77.65L341.77 79.90L339.52 82.15L337.27 79.90Z" class="f"/>
<path d="M343.97 52.65L346.22 54.90L343.97 57.15L341.72 54.90Z" class="f"/>
<path d="M348.41 38.74L350.66 40.99L348.41 43.24L346.16 40.99Z" class="f"/>
<path d="M352.86 47.26L355.11 49.51L352.86 51.76L350.61 49.51Z" class="f"/>
<path d="M357.30 60.32L359.55 62.57L357.30 64.82L355.05 62.57Z" class="f"/>
<path d="M361.74 79.92L363.99 82.17L361.74 84.42L359.49 82.17Z" class="f"/>
<path d="M366.19 91.27L368.44 93.52L366.19 95.77L363.94 93.52Z" class="f"/>
<path d="M370.63 102.07L372.88 104.32L370.63 106.57L368.38 104.32Z" class="f"/>
<path d="M375.08 110.59L377.33 112.84L375.08 115.09L372.83 112.84Z" class="f"/>
<path d="M379.52 121.38L381.77 123.63L379.52 125.88L377.27 123.63Z" class="f"/>
<path d="M383.97 119.11L386.22 121.36L383.97 123.61L381.72 121.36Z" class="f"/>
<path d="M388.41 123.65L390.66 125.90L388.41 128.15L386.16 125.90Z" class="f"/>
<path d="M392.86 134.16L395.11 136.41L392.86 138.66L390.61 136.41Z" class="f"/>
<path d="M397.30 131.89L399.55 134.14L397.30 136.39L395.05 134.14Z" class="f"/>
<path d="M401.74 125.36L403.99 127.61L401.74 129.86L399.49 127.61Z" class="f"/>
<path d="M406.19 129.90L408.44 132.15L406.19 134.40L403.94 132.15Z" class="f"/>
<path d="M410.63 132.74L412.88 134.99L410.63 137.24L408.38 134.99Z" class="f"/>
<path d="M415.08 136.43L417.33 138.68L415.08 140.93L412.83 138.68Z" class="f"/>
<path d="M419.52 138.42L421.77 140.67L419.52 142.92L417.27 140.67Z" class="f"/>
<path d="M423.97 127.91L426.22 130.16L423.97 132.41L421.72 130.16Z" class="f"/>
<path d="M428.41 136.43L430.66 138.68L428.41 140.93L426.16 138.68Z" class="f"/>
<path d="M432.86 137.09L435.11 139.34L432.86 141.59L430.61 139.34Z" class="f"/>
<path d="M437.30 137.76L439.55 140.01L437.30 142.26L435.05 140.01Z" class="f"/>
<path d="M441.74 134.50L443.99 136.75L441.74 139.00L439.49 136.75Z" class="f"/>
<path d="M446.19 136.69L448.44 138.94L446.19 141.19L443.94 138.94Z" class="f"/>
<path d="M450.63 135.41L452.88 137.66L450.63 139.91L448.38 137.66Z" class="f"/>
<path d="M455.08 135.82L457.33 138.07L455.08 140.32L452.83 138.07Z" class="f"/>
<path d="M459.52 141.66L461.77 143.91L459.52 146.16L457.27 143.91Z" class="f"/>
<path d="M463.97 140.46L466.22 142.71L463.97 144.96L461.72 142.71Z" class="f"/>
<path d="M468.41 135.89L470.66 138.14L468.41 140.39L466.16 138.14Z" class="f"/>
<path d="M472.86 136.78L475.11 139.03L472.86 141.28L470.61 139.03Z" class="f"/>
<path d="M477.30 136.22L479.55 138.47L477.30 140.72L475.05 138.47Z" class="f"/>
<path d="M481.74 143.21L483.99 145.46L481.74 147.71L479.49 145.46Z" class="f"/>
<path d="M486.19 140.91L488.44 143.16L486.19 145.41L483.94 143.16Z" class="f"/>
<path d="M490.63 137.14L492.88 139.39L490.63 141.64L488.38 139.39Z" class="f"/>
<path d="M495.08 142.99L497.33 145.24L495.08 147.49L492.83 145.24Z" class="f"/>
<path d="M499.52 138.75L501.77 141.00L499.52 143.25L497.27 141.00Z" class="f"/>
<path d="M503.97 143.09L506.22 145.34L503.97 147.59L501.72 145.34Z" class="f"/>
<path d="M508.41 140.86L510.66 143.11L508.41 145.36L506.16 143.11Z" class="f"/>
<path d="M512.86 139.63L515.11 141.88L512.86 144.13L510.61 141.88Z" class="f"/>
<rect x="313.5" y="4.35" width="200.0" height="142.0" class="box"/>
<line x1="310.1" y1="146.35" x2="313.5" y2="146.35" class="ax"/>
<text x="306.3" y="150.30" class="tk" text-anchor="end">0</text>
<line x1="310.1" y1="117.95" x2="313.5" y2="117.95" class="ax"/>
<text x="306.3" y="121.90" class="tk" text-anchor="end">100</text>
<line x1="310.1" y1="89.55" x2="313.5" y2="89.55" class="ax"/>
<text x="306.3" y="93.50" class="tk" text-anchor="end">200</text>
<line x1="310.1" y1="61.15" x2="313.5" y2="61.15" class="ax"/>
<text x="306.3" y="65.10" class="tk" text-anchor="end">300</text>
<line x1="310.1" y1="32.75" x2="313.5" y2="32.75" class="ax"/>
<text x="306.3" y="36.70" class="tk" text-anchor="end">400</text>
<line x1="310.1" y1="4.35" x2="313.5" y2="4.35" class="ax"/>
<text x="306.3" y="8.30" class="tk" text-anchor="end">500</text>
<line x1="313.50" y1="146.35" x2="313.50" y2="149.54999999999998" class="ax"/>
<text x="313.50" y="163.20" class="tk" text-anchor="middle">0</text>
<line x1="353.50" y1="146.35" x2="353.50" y2="149.54999999999998" class="ax"/>
<text x="353.50" y="163.20" class="tk" text-anchor="middle">3</text>
<line x1="393.50" y1="146.35" x2="393.50" y2="149.54999999999998" class="ax"/>
<text x="393.50" y="163.20" class="tk" text-anchor="middle">6</text>
<line x1="433.50" y1="146.35" x2="433.50" y2="149.54999999999998" class="ax"/>
<text x="433.50" y="163.20" class="tk" text-anchor="middle">9</text>
<line x1="473.50" y1="146.35" x2="473.50" y2="149.54999999999998" class="ax"/>
<text x="474.20" y="163.20" class="tk" text-anchor="middle">12</text>
<line x1="513.50" y1="146.35" x2="513.50" y2="149.54999999999998" class="ax"/>
<text x="514.20" y="163.20" class="tk" text-anchor="middle">15</text>
<text x="413.50" y="178.65" class="at" text-anchor="middle">Time (min)</text>
<text transform="translate(278.90 74.60) rotate(-90)" class="at" text-anchor="middle">Thrombin (nM)</text>
<text x="321.0" y="22.0" class="tt">FV Leiden -APC</text>
<text x="268.4" y="14.3" class="lt">B</text>
<path d="M48.64 338.21L53.08 338.25L57.53 338.22L61.97 337.34L66.42 338.34L70.86 338.02L75.30 337.58L79.75 338.01L84.19 337.84L88.64 337.66L93.08 337.98L97.53 337.62L101.97 337.85L106.42 337.55L110.86 337.52L115.30 337.86L119.75 337.32L124.19 337.62L128.64 338.44L133.08 337.25L137.53 338.16L141.97 337.14L146.42 337.24L150.86 338.37L155.30 337.79L159.75 337.55L164.19 337.86L168.64 337.72L173.08 337.63L177.53 337.13L181.97 336.66L186.42 336.19L190.86 335.71L195.30 335.24L199.75 334.77L204.19 334.29L208.64 333.82L213.08 333.35L217.53 332.88L221.97 335.77L226.42 329.01L230.86 333.57L235.30 329.10L239.75 330.13" class="ln"/>
<path d="M48.64 336.11L50.74 338.21L48.64 340.31L46.54 338.21Z" class="o"/>
<path d="M53.08 336.15L55.18 338.25L53.08 340.35L50.98 338.25Z" class="o"/>
<path d="M57.53 336.12L59.63 338.22L57.53 340.32L55.43 338.22Z" class="o"/>
<path d="M61.97 335.24L64.07 337.34L61.97 339.44L59.87 337.34Z" class="o"/>
<path d="M66.42 336.24L68.52 338.34L66.42 340.44L64.32 338.34Z" class="o"/>
<path d="M70.86 335.92L72.96 338.02L70.86 340.12L68.76 338.02Z" class="o"/>
<path d="M75.30 335.48L77.40 337.58L75.30 339.68L73.20 337.58Z" class="o"/>
<path d="M79.75 335.91L81.85 338.01L79.75 340.11L77.65 338.01Z" class="o"/>
<path d="M84.19 335.74L86.29 337.84L84.19 339.94L82.09 337.84Z" class="o"/>
<path d="M88.64 335.56L90.74 337.66L88.64 339.76L86.54 337.66Z" class="o"/>
<path d="M93.08 335.88L95.18 337.98L93.08 340.08L90.98 337.98Z" class="o"/>
<path d="M97.53 335.52L99.63 337.62L97.53 339.72L95.43 337.62Z" class="o"/>
<path d="M101.97 335.75L104.07 337.85L101.97 339.95L99.87 337.85Z" class="o"/>
<path d="M106.42 335.45L108.52 337.55L106.42 339.65L104.32 337.55Z" class="o"/>
<path d="M110.86 335.42L112.96 337.52L110.86 339.62L108.76 337.52Z" class="o"/>
<path d="M115.30 335.76L117.40 337.86L115.30 339.96L113.20 337.86Z" class="o"/>
<path d="M119.75 335.22L121.85 337.32L119.75 339.42L117.65 337.32Z" class="o"/>
<path d="M124.19 335.52L126.29 337.62L124.19 339.72L122.09 337.62Z" class="o"/>
<path d="M128.64 336.34L130.74 338.44L128.64 340.54L126.54 338.44Z" class="o"/>
<path d="M133.08 335.15L135.18 337.25L133.08 339.35L130.98 337.25Z" class="o"/>
<path d="M137.53 336.06L139.63 338.16L137.53 340.26L135.43 338.16Z" class="o"/>
<path d="M141.97 335.04L144.07 337.14L141.97 339.24L139.87 337.14Z" class="o"/>
<path d="M146.42 335.14L148.52 337.24L146.42 339.34L144.32 337.24Z" class="o"/>
<path d="M150.86 336.27L152.96 338.37L150.86 340.47L148.76 338.37Z" class="o"/>
<path d="M155.30 335.69L157.40 337.79L155.30 339.89L153.20 337.79Z" class="o"/>
<path d="M159.75 335.45L161.85 337.55L159.75 339.65L157.65 337.55Z" class="o"/>
<path d="M164.19 335.76L166.29 337.86L164.19 339.96L162.09 337.86Z" class="o"/>
<path d="M168.64 335.62L170.74 337.72L168.64 339.82L166.54 337.72Z" class="o"/>
<path d="M173.08 335.53L175.18 337.63L173.08 339.73L170.98 337.63Z" class="o"/>
<path d="M177.53 335.03L179.63 337.13L177.53 339.23L175.43 337.13Z" class="o"/>
<path d="M181.97 334.56L184.07 336.66L181.97 338.76L179.87 336.66Z" class="o"/>
<path d="M186.42 334.09L188.52 336.19L186.42 338.29L184.32 336.19Z" class="o"/>
<path d="M190.86 333.61L192.96 335.71L190.86 337.81L188.76 335.71Z" class="o"/>
<path d="M195.30 333.14L197.40 335.24L195.30 337.34L193.20 335.24Z" class="o"/>
<path d="M199.75 332.67L201.85 334.77L199.75 336.87L197.65 334.77Z" class="o"/>
<path d="M204.19 332.19L206.29 334.29L204.19 336.39L202.09 334.29Z" class="o"/>
<path d="M208.64 331.72L210.74 333.82L208.64 335.92L206.54 333.82Z" class="o"/>
<path d="M213.08 331.25L215.18 333.35L213.08 335.45L210.98 333.35Z" class="o"/>
<path d="M217.53 330.78L219.63 332.88L217.53 334.98L215.43 332.88Z" class="o"/>
<path d="M221.97 333.67L224.07 335.77L221.97 337.87L219.87 335.77Z" class="o"/>
<path d="M226.42 326.91L228.52 329.01L226.42 331.11L224.32 329.01Z" class="o"/>
<path d="M230.86 331.47L232.96 333.57L230.86 335.67L228.76 333.57Z" class="o"/>
<path d="M235.30 327.00L237.40 329.10L235.30 331.20L233.20 329.10Z" class="o"/>
<path d="M239.75 328.03L241.85 330.13L239.75 332.23L237.65 330.13Z" class="o"/>
<path d="M48.64 337.43L53.08 337.29L57.53 338.09L61.97 338.32L66.42 337.52L70.86 337.30L75.30 337.15L79.75 338.14L84.19 338.20L88.64 337.81L93.08 337.14L97.53 337.79L101.97 337.83L106.42 338.19L110.86 337.23L115.30 337.77L119.75 337.23L124.19 334.77L128.64 332.21L133.08 331.93L137.53 327.20L141.97 321.53L146.42 305.45L150.86 281.81L155.30 252.21L159.75 233.02L164.19 226.49L168.64 236.42L173.08 247.39L177.53 260.53L181.97 274.53L186.42 283.70L190.86 288.43L195.30 300.72L199.75 308.29L204.19 317.75L208.64 313.02L213.08 317.74L217.53 323.42L221.97 318.69L226.42 327.11L230.86 320.11L235.30 328.15L239.75 329.19" class="ln"/>
<rect x="46.69" y="335.48" width="3.90" height="3.90" class="o"/>
<rect x="51.13" y="335.34" width="3.90" height="3.90" class="o"/>
<rect x="55.58" y="336.14" width="3.90" height="3.90" class="o"/>
<rect x="60.02" y="336.37" width="3.90" height="3.90" class="o"/>
<rect x="64.47" y="335.57" width="3.90" height="3.90" class="o"/>
<rect x="68.91" y="335.35" width="3.90" height="3.90" class="o"/>
<rect x="73.35" y="335.20" width="3.90" height="3.90" class="o"/>
<rect x="77.80" y="336.19" width="3.90" height="3.90" class="o"/>
<rect x="82.24" y="336.25" width="3.90" height="3.90" class="o"/>
<rect x="86.69" y="335.86" width="3.90" height="3.90" class="o"/>
<rect x="91.13" y="335.19" width="3.90" height="3.90" class="o"/>
<rect x="95.58" y="335.84" width="3.90" height="3.90" class="o"/>
<rect x="100.02" y="335.88" width="3.90" height="3.90" class="o"/>
<rect x="104.47" y="336.24" width="3.90" height="3.90" class="o"/>
<rect x="108.91" y="335.28" width="3.90" height="3.90" class="o"/>
<rect x="113.35" y="335.82" width="3.90" height="3.90" class="o"/>
<rect x="117.80" y="335.28" width="3.90" height="3.90" class="o"/>
<rect x="122.24" y="332.82" width="3.90" height="3.90" class="o"/>
<rect x="126.69" y="330.26" width="3.90" height="3.90" class="o"/>
<rect x="131.13" y="329.98" width="3.90" height="3.90" class="o"/>
<rect x="135.58" y="325.25" width="3.90" height="3.90" class="o"/>
<rect x="140.02" y="319.58" width="3.90" height="3.90" class="o"/>
<rect x="144.47" y="303.50" width="3.90" height="3.90" class="o"/>
<rect x="148.91" y="279.86" width="3.90" height="3.90" class="o"/>
<rect x="153.35" y="250.26" width="3.90" height="3.90" class="o"/>
<rect x="157.80" y="231.07" width="3.90" height="3.90" class="o"/>
<rect x="162.24" y="224.54" width="3.90" height="3.90" class="o"/>
<rect x="166.69" y="234.47" width="3.90" height="3.90" class="o"/>
<rect x="171.13" y="245.44" width="3.90" height="3.90" class="o"/>
<rect x="175.58" y="258.58" width="3.90" height="3.90" class="o"/>
<rect x="180.02" y="272.58" width="3.90" height="3.90" class="o"/>
<rect x="184.47" y="281.75" width="3.90" height="3.90" class="o"/>
<rect x="188.91" y="286.48" width="3.90" height="3.90" class="o"/>
<rect x="193.35" y="298.77" width="3.90" height="3.90" class="o"/>
<rect x="197.80" y="306.34" width="3.90" height="3.90" class="o"/>
<rect x="202.24" y="315.80" width="3.90" height="3.90" class="o"/>
<rect x="206.69" y="311.07" width="3.90" height="3.90" class="o"/>
<rect x="211.13" y="315.79" width="3.90" height="3.90" class="o"/>
<rect x="215.58" y="321.47" width="3.90" height="3.90" class="o"/>
<rect x="220.02" y="316.74" width="3.90" height="3.90" class="o"/>
<rect x="224.47" y="325.16" width="3.90" height="3.90" class="o"/>
<rect x="228.91" y="318.16" width="3.90" height="3.90" class="o"/>
<rect x="233.35" y="326.20" width="3.90" height="3.90" class="o"/>
<rect x="237.80" y="327.24" width="3.90" height="3.90" class="o"/>
<path d="M48.64 337.44L53.08 338.16L57.53 337.99L61.97 337.94L66.42 338.00L70.86 338.36L75.30 337.36L79.75 337.84L84.19 335.71L88.64 329.28L93.08 321.53L97.53 307.72L101.97 273.30L106.42 246.82L110.86 221.67L115.30 225.07L119.75 237.36L124.19 243.51L128.64 262.90L133.08 271.41L137.53 291.27L141.97 293.16L146.42 293.16L150.86 305.45L155.30 306.11L159.75 315.66L164.19 313.02L168.64 322.57L173.08 318.31L177.53 325.59L181.97 321.24L186.42 325.59L190.86 327.77L195.30 321.72L199.75 329.09L204.19 327.20L208.64 328.15L213.08 330.98L217.53 330.04L221.97 331.93L226.42 329.09L230.86 330.98L235.30 332.87L239.75 319.64" class="ln"/>
<circle cx="48.64" cy="337.44" r="1.95" class="o"/>
<circle cx="53.08" cy="338.16" r="1.95" class="o"/>
<circle cx="57.53" cy="337.99" r="1.95" class="o"/>
<circle cx="61.97" cy="337.94" r="1.95" class="o"/>
<circle cx="66.42" cy="338.00" r="1.95" class="o"/>
<circle cx="70.86" cy="338.36" r="1.95" class="o"/>
<circle cx="75.30" cy="337.36" r="1.95" class="o"/>
<circle cx="79.75" cy="337.84" r="1.95" class="o"/>
<circle cx="84.19" cy="335.71" r="1.95" class="o"/>
<circle cx="88.64" cy="329.28" r="1.95" class="o"/>
<circle cx="93.08" cy="321.53" r="1.95" class="o"/>
<circle cx="97.53" cy="307.72" r="1.95" class="o"/>
<circle cx="101.97" cy="273.30" r="1.95" class="o"/>
<circle cx="106.42" cy="246.82" r="1.95" class="o"/>
<circle cx="110.86" cy="221.67" r="1.95" class="o"/>
<circle cx="115.30" cy="225.07" r="1.95" class="o"/>
<circle cx="119.75" cy="237.36" r="1.95" class="o"/>
<circle cx="124.19" cy="243.51" r="1.95" class="o"/>
<circle cx="128.64" cy="262.90" r="1.95" class="o"/>
<circle cx="133.08" cy="271.41" r="1.95" class="o"/>
<circle cx="137.53" cy="291.27" r="1.95" class="o"/>
<circle cx="141.97" cy="293.16" r="1.95" class="o"/>
<circle cx="146.42" cy="293.16" r="1.95" class="o"/>
<circle cx="150.86" cy="305.45" r="1.95" class="o"/>
<circle cx="155.30" cy="306.11" r="1.95" class="o"/>
<circle cx="159.75" cy="315.66" r="1.95" class="o"/>
<circle cx="164.19" cy="313.02" r="1.95" class="o"/>
<circle cx="168.64" cy="322.57" r="1.95" class="o"/>
<circle cx="173.08" cy="318.31" r="1.95" class="o"/>
<circle cx="177.53" cy="325.59" r="1.95" class="o"/>
<circle cx="181.97" cy="321.24" r="1.95" class="o"/>
<circle cx="186.42" cy="325.59" r="1.95" class="o"/>
<circle cx="190.86" cy="327.77" r="1.95" class="o"/>
<circle cx="195.30" cy="321.72" r="1.95" class="o"/>
<circle cx="199.75" cy="329.09" r="1.95" class="o"/>
<circle cx="204.19" cy="327.20" r="1.95" class="o"/>
<circle cx="208.64" cy="328.15" r="1.95" class="o"/>
<circle cx="213.08" cy="330.98" r="1.95" class="o"/>
<circle cx="217.53" cy="330.04" r="1.95" class="o"/>
<circle cx="221.97" cy="331.93" r="1.95" class="o"/>
<circle cx="226.42" cy="329.09" r="1.95" class="o"/>
<circle cx="230.86" cy="330.98" r="1.95" class="o"/>
<circle cx="235.30" cy="332.87" r="1.95" class="o"/>
<circle cx="239.75" cy="319.64" r="1.95" class="o"/>
<path d="M48.64 337.87L53.08 337.18L57.53 338.23L61.97 337.81L66.42 337.82L70.86 337.24L75.30 338.37L79.75 337.88L84.19 329.09L88.64 314.91L93.08 289.38L97.53 258.17L101.97 236.42L106.42 238.31L110.86 244.93L115.30 257.22L119.75 269.70L124.19 283.99L128.64 294.67L133.08 298.36L137.53 306.40L141.97 312.07L146.42 317.74L150.86 321.53L155.30 324.37L159.75 327.20L164.19 329.09L168.64 330.04L173.08 330.98L177.53 331.93L181.97 335.35L186.42 330.46L190.86 332.60L195.30 333.16L199.75 329.74L204.19 330.78L208.64 331.00L213.08 332.39L217.53 329.82L221.97 330.77L226.42 334.89L230.86 332.83L235.30 334.95L239.75 330.17" class="ln"/>
<path d="M48.64 335.07L50.84 339.67L46.44 339.67Z" class="o"/>
<path d="M53.08 334.38L55.28 338.98L50.88 338.98Z" class="o"/>
<path d="M57.53 335.43L59.73 340.03L55.33 340.03Z" class="o"/>
<path d="M61.97 335.01L64.17 339.61L59.77 339.61Z" class="o"/>
<path d="M66.42 335.02L68.62 339.62L64.22 339.62Z" class="o"/>
<path d="M70.86 334.44L73.06 339.04L68.66 339.04Z" class="o"/>
<path d="M75.30 335.57L77.50 340.17L73.10 340.17Z" class="o"/>
<path d="M79.75 335.08L81.95 339.68L77.55 339.68Z" class="o"/>
<path d="M84.19 326.29L86.39 330.89L81.99 330.89Z" class="o"/>
<path d="M88.64 312.11L90.84 316.71L86.44 316.71Z" class="o"/>
<path d="M93.08 286.58L95.28 291.18L90.88 291.18Z" class="o"/>
<path d="M97.53 255.37L99.73 259.97L95.33 259.97Z" class="o"/>
<path d="M101.97 233.62L104.17 238.22L99.77 238.22Z" class="o"/>
<path d="M106.42 235.51L108.62 240.11L104.22 240.11Z" class="o"/>
<path d="M110.86 242.13L113.06 246.73L108.66 246.73Z" class="o"/>
<path d="M115.30 254.42L117.50 259.02L113.10 259.02Z" class="o"/>
<path d="M119.75 266.90L121.95 271.50L117.55 271.50Z" class="o"/>
<path d="M124.19 281.19L126.39 285.79L121.99 285.79Z" class="o"/>
<path d="M128.64 291.87L130.84 296.47L126.44 296.47Z" class="o"/>
<path d="M133.08 295.56L135.28 300.16L130.88 300.16Z" class="o"/>
<path d="M137.53 303.60L139.73 308.20L135.33 308.20Z" class="o"/>
<path d="M141.97 309.27L144.17 313.87L139.77 313.87Z" class="o"/>
<path d="M146.42 314.94L148.62 319.54L144.22 319.54Z" class="o"/>
<path d="M150.86 318.73L153.06 323.33L148.66 323.33Z" class="o"/>
<path d="M155.30 321.57L157.50 326.17L153.10 326.17Z" class="o"/>
<path d="M159.75 324.40L161.95 329.00L157.55 329.00Z" class="o"/>
<path d="M164.19 326.29L166.39 330.89L161.99 330.89Z" class="o"/>
<path d="M168.64 327.24L170.84 331.84L166.44 331.84Z" class="o"/>
<path d="M173.08 328.18L175.28 332.78L170.88 332.78Z" class="o"/>
<path d="M177.53 329.13L179.73 333.73L175.33 333.73Z" class="o"/>
<path d="M181.97 332.55L184.17 337.15L179.77 337.15Z" class="o"/>
<path d="M186.42 327.66L188.62 332.26L184.22 332.26Z" class="o"/>
<path d="M190.86 329.80L193.06 334.40L188.66 334.40Z" class="o"/>
<path d="M195.30 330.36L197.50 334.96L193.10 334.96Z" class="o"/>
<path d="M199.75 326.94L201.95 331.54L197.55 331.54Z" class="o"/>
<path d="M204.19 327.98L206.39 332.58L201.99 332.58Z" class="o"/>
<path d="M208.64 328.20L210.84 332.80L206.44 332.80Z" class="o"/>
<path d="M213.08 329.59L215.28 334.19L210.88 334.19Z" class="o"/>
<path d="M217.53 327.02L219.73 331.62L215.33 331.62Z" class="o"/>
<path d="M221.97 327.97L224.17 332.57L219.77 332.57Z" class="o"/>
<path d="M226.42 332.09L228.62 336.69L224.22 336.69Z" class="o"/>
<path d="M230.86 330.03L233.06 334.63L228.66 334.63Z" class="o"/>
<path d="M235.30 332.15L237.50 336.75L233.10 336.75Z" class="o"/>
<path d="M239.75 327.37L241.95 331.97L237.55 331.97Z" class="o"/>
<path d="M48.64 338.05L53.08 337.95L57.53 337.39L61.97 338.14L66.42 337.33L70.86 337.14L75.30 335.71L79.75 331.55L84.19 322.47L88.64 303.94L93.08 281.15L97.53 260.44L101.97 255.52L106.42 259.40L110.86 264.79L115.30 278.97L119.75 286.16L124.19 292.59L128.64 305.45L133.08 313.02L137.53 314.91L141.97 321.53L146.42 316.80L150.86 326.63L155.30 326.92L159.75 330.42L164.19 332.88L168.64 331.27L173.08 332.97L177.53 334.77L181.97 335.62L186.42 335.71L190.86 335.12L195.30 334.88L199.75 338.55L204.19 334.21L208.64 337.24L213.08 335.07L217.53 338.02L221.97 336.68L226.42 334.84L230.86 334.06L235.30 338.55L239.75 333.45" class="ln"/>
<path d="M48.64 335.80L50.89 338.05L48.64 340.30L46.39 338.05Z" class="f"/>
<path d="M53.08 335.70L55.33 337.95L53.08 340.20L50.83 337.95Z" class="f"/>
<path d="M57.53 335.14L59.78 337.39L57.53 339.64L55.28 337.39Z" class="f"/>
<path d="M61.97 335.89L64.22 338.14L61.97 340.39L59.72 338.14Z" class="f"/>
<path d="M66.42 335.08L68.67 337.33L66.42 339.58L64.17 337.33Z" class="f"/>
<path d="M70.86 334.89L73.11 337.14L70.86 339.39L68.61 337.14Z" class="f"/>
<path d="M75.30 333.46L77.55 335.71L75.30 337.96L73.05 335.71Z" class="f"/>
<path d="M79.75 329.30L82.00 331.55L79.75 333.80L77.50 331.55Z" class="f"/>
<path d="M84.19 320.22L86.44 322.47L84.19 324.72L81.94 322.47Z" class="f"/>
<path d="M88.64 301.69L90.89 303.94L88.64 306.19L86.39 303.94Z" class="f"/>
<path d="M93.08 278.90L95.33 281.15L93.08 283.40L90.83 281.15Z" class="f"/>
<path d="M97.53 258.19L99.78 260.44L97.53 262.69L95.28 260.44Z" class="f"/>
<path d="M101.97 253.27L104.22 255.52L101.97 257.77L99.72 255.52Z" class="f"/>
<path d="M106.42 257.15L108.67 259.40L106.42 261.65L104.17 259.40Z" class="f"/>
<path d="M110.86 262.54L113.11 264.79L110.86 267.04L108.61 264.79Z" class="f"/>
<path d="M115.30 276.72L117.55 278.97L115.30 281.22L113.05 278.97Z" class="f"/>
<path d="M119.75 283.91L122.00 286.16L119.75 288.41L117.50 286.16Z" class="f"/>
<path d="M124.19 290.34L126.44 292.59L124.19 294.84L121.94 292.59Z" class="f"/>
<path d="M128.64 303.20L130.89 305.45L128.64 307.70L126.39 305.45Z" class="f"/>
<path d="M133.08 310.77L135.33 313.02L133.08 315.27L130.83 313.02Z" class="f"/>
<path d="M137.53 312.66L139.78 314.91L137.53 317.16L135.28 314.91Z" class="f"/>
<path d="M141.97 319.28L144.22 321.53L141.97 323.78L139.72 321.53Z" class="f"/>
<path d="M146.42 314.55L148.67 316.80L146.42 319.05L144.17 316.80Z" class="f"/>
<path d="M150.86 324.38L153.11 326.63L150.86 328.88L148.61 326.63Z" class="f"/>
<path d="M155.30 324.67L157.55 326.92L155.30 329.17L153.05 326.92Z" class="f"/>
<path d="M159.75 328.17L162.00 330.42L159.75 332.67L157.50 330.42Z" class="f"/>
<path d="M164.19 330.63L166.44 332.88L164.19 335.13L161.94 332.88Z" class="f"/>
<path d="M168.64 329.02L170.89 331.27L168.64 333.52L166.39 331.27Z" class="f"/>
<path d="M173.08 330.72L175.33 332.97L173.08 335.22L170.83 332.97Z" class="f"/>
<path d="M177.53 332.52L179.78 334.77L177.53 337.02L175.28 334.77Z" class="f"/>
<path d="M181.97 333.37L184.22 335.62L181.97 337.87L179.72 335.62Z" class="f"/>
<path d="M186.42 333.46L188.67 335.71L186.42 337.96L184.17 335.71Z" class="f"/>
<path d="M190.86 332.87L193.11 335.12L190.86 337.37L188.61 335.12Z" class="f"/>
<path d="M195.30 332.63L197.55 334.88L195.30 337.13L193.05 334.88Z" class="f"/>
<path d="M199.75 336.30L202.00 338.55L199.75 340.80L197.50 338.55Z" class="f"/>
<path d="M204.19 331.96L206.44 334.21L204.19 336.46L201.94 334.21Z" class="f"/>
<path d="M208.64 334.99L210.89 337.24L208.64 339.49L206.39 337.24Z" class="f"/>
<path d="M213.08 332.82L215.33 335.07L213.08 337.32L210.83 335.07Z" class="f"/>
<path d="M217.53 335.77L219.78 338.02L217.53 340.27L215.28 338.02Z" class="f"/>
<path d="M221.97 334.43L224.22 336.68L221.97 338.93L219.72 336.68Z" class="f"/>
<path d="M226.42 332.59L228.67 334.84L226.42 337.09L224.17 334.84Z" class="f"/>
<path d="M230.86 331.81L233.11 334.06L230.86 336.31L228.61 334.06Z" class="f"/>
<path d="M235.30 336.30L237.55 338.55L235.30 340.80L233.05 338.55Z" class="f"/>
<path d="M239.75 331.20L242.00 333.45L239.75 335.70L237.50 333.45Z" class="f"/>
<rect x="43.5" y="196.7" width="200.0" height="141.85000000000002" class="box"/>
<line x1="40.1" y1="338.55" x2="43.5" y2="338.55" class="ax"/>
<text x="36.3" y="342.50" class="tk" text-anchor="end">0</text>
<line x1="40.1" y1="291.27" x2="43.5" y2="291.27" class="ax"/>
<text x="36.3" y="295.22" class="tk" text-anchor="end">50</text>
<line x1="40.1" y1="243.98" x2="43.5" y2="243.98" class="ax"/>
<text x="36.3" y="247.93" class="tk" text-anchor="end">100</text>
<line x1="40.1" y1="196.70" x2="43.5" y2="196.70" class="ax"/>
<text x="36.3" y="200.65" class="tk" text-anchor="end">150</text>
<line x1="43.50" y1="338.55" x2="43.50" y2="341.75" class="ax"/>
<text x="43.50" y="355.40" class="tk" text-anchor="middle">0</text>
<line x1="83.50" y1="338.55" x2="83.50" y2="341.75" class="ax"/>
<text x="83.50" y="355.40" class="tk" text-anchor="middle">3</text>
<line x1="123.50" y1="338.55" x2="123.50" y2="341.75" class="ax"/>
<text x="123.50" y="355.40" class="tk" text-anchor="middle">6</text>
<line x1="163.50" y1="338.55" x2="163.50" y2="341.75" class="ax"/>
<text x="163.50" y="355.40" class="tk" text-anchor="middle">9</text>
<line x1="203.50" y1="338.55" x2="203.50" y2="341.75" class="ax"/>
<text x="204.20" y="355.40" class="tk" text-anchor="middle">12</text>
<line x1="243.50" y1="338.55" x2="243.50" y2="341.75" class="ax"/>
<text x="244.20" y="355.40" class="tk" text-anchor="middle">15</text>
<text x="143.50" y="370.85" class="at" text-anchor="middle">Time (min)</text>
<text transform="translate(8.90 267.10) rotate(-90)" class="at" text-anchor="middle">Thrombin (nM)</text>
<text x="51.6" y="215.0" class="tt">Normal FV +APC</text>
<text x="1.25" y="207.1" class="lt">C</text>
<path d="M316.70 338.09L321.14 338.10L325.59 338.55L330.03 337.84L334.48 338.55L338.92 338.55L343.37 337.86L347.81 338.19L352.26 338.55L356.70 338.08L361.14 337.97L365.59 337.80L370.03 338.20L374.48 338.20L378.92 337.13L383.37 336.07L387.81 334.65L392.26 330.75L396.70 321.53L401.14 301.31L405.59 275.78L410.03 258.40L414.48 247.06L418.92 252.02L423.37 264.08L427.81 272.24L432.26 287.13L436.70 287.84L441.14 304.15L445.59 305.92L450.03 311.95L454.48 313.37L458.92 317.63L463.37 322.59L467.81 324.01L472.26 327.91L476.70 331.46L481.14 332.20L485.59 329.36L490.03 333.49L494.48 333.72L498.92 332.67L503.37 332.58L507.81 337.49L512.26 338.55" class="ln"/>
<path d="M316.70 335.99L318.80 338.09L316.70 340.19L314.60 338.09Z" class="o"/>
<path d="M321.14 336.00L323.24 338.10L321.14 340.20L319.04 338.10Z" class="o"/>
<path d="M325.59 336.45L327.69 338.55L325.59 340.65L323.49 338.55Z" class="o"/>
<path d="M330.03 335.74L332.13 337.84L330.03 339.94L327.93 337.84Z" class="o"/>
<path d="M334.48 336.45L336.58 338.55L334.48 340.65L332.38 338.55Z" class="o"/>
<path d="M338.92 336.45L341.02 338.55L338.92 340.65L336.82 338.55Z" class="o"/>
<path d="M343.37 335.76L345.47 337.86L343.37 339.96L341.27 337.86Z" class="o"/>
<path d="M347.81 336.09L349.91 338.19L347.81 340.29L345.71 338.19Z" class="o"/>
<path d="M352.26 336.45L354.36 338.55L352.26 340.65L350.16 338.55Z" class="o"/>
<path d="M356.70 335.98L358.80 338.08L356.70 340.18L354.60 338.08Z" class="o"/>
<path d="M361.14 335.87L363.24 337.97L361.14 340.07L359.04 337.97Z" class="o"/>
<path d="M365.59 335.70L367.69 337.80L365.59 339.90L363.49 337.80Z" class="o"/>
<path d="M370.03 336.10L372.13 338.20L370.03 340.30L367.93 338.20Z" class="o"/>
<path d="M374.48 336.10L376.58 338.20L374.48 340.30L372.38 338.20Z" class="o"/>
<path d="M378.92 335.03L381.02 337.13L378.92 339.23L376.82 337.13Z" class="o"/>
<path d="M383.37 333.97L385.47 336.07L383.37 338.17L381.27 336.07Z" class="o"/>
<path d="M387.81 332.55L389.91 334.65L387.81 336.75L385.71 334.65Z" class="o"/>
<path d="M392.26 328.65L394.36 330.75L392.26 332.85L390.16 330.75Z" class="o"/>
<path d="M396.70 319.43L398.80 321.53L396.70 323.63L394.60 321.53Z" class="o"/>
<path d="M401.14 299.21L403.24 301.31L401.14 303.41L399.04 301.31Z" class="o"/>
<path d="M405.59 273.68L407.69 275.78L405.59 277.88L403.49 275.78Z" class="o"/>
<path d="M410.03 256.30L412.13 258.40L410.03 260.50L407.93 258.40Z" class="o"/>
<path d="M414.48 244.96L416.58 247.06L414.48 249.16L412.38 247.06Z" class="o"/>
<path d="M418.92 249.92L421.02 252.02L418.92 254.12L416.82 252.02Z" class="o"/>
<path d="M423.37 261.98L425.47 264.08L423.37 266.18L421.27 264.08Z" class="o"/>
<path d="M427.81 270.14L429.91 272.24L427.81 274.34L425.71 272.24Z" class="o"/>
<path d="M432.26 285.03L434.36 287.13L432.26 289.23L430.16 287.13Z" class="o"/>
<path d="M436.70 285.74L438.80 287.84L436.70 289.94L434.60 287.84Z" class="o"/>
<path d="M441.14 302.05L443.24 304.15L441.14 306.25L439.04 304.15Z" class="o"/>
<path d="M445.59 303.82L447.69 305.92L445.59 308.02L443.49 305.92Z" class="o"/>
<path d="M450.03 309.85L452.13 311.95L450.03 314.05L447.93 311.95Z" class="o"/>
<path d="M454.48 311.27L456.58 313.37L454.48 315.47L452.38 313.37Z" class="o"/>
<path d="M458.92 315.53L461.02 317.63L458.92 319.73L456.82 317.63Z" class="o"/>
<path d="M463.37 320.49L465.47 322.59L463.37 324.69L461.27 322.59Z" class="o"/>
<path d="M467.81 321.91L469.91 324.01L467.81 326.11L465.71 324.01Z" class="o"/>
<path d="M472.26 325.81L474.36 327.91L472.26 330.01L470.16 327.91Z" class="o"/>
<path d="M476.70 329.36L478.80 331.46L476.70 333.56L474.60 331.46Z" class="o"/>
<path d="M481.14 330.10L483.24 332.20L481.14 334.30L479.04 332.20Z" class="o"/>
<path d="M485.59 327.26L487.69 329.36L485.59 331.46L483.49 329.36Z" class="o"/>
<path d="M490.03 331.39L492.13 333.49L490.03 335.59L487.93 333.49Z" class="o"/>
<path d="M494.48 331.62L496.58 333.72L494.48 335.82L492.38 333.72Z" class="o"/>
<path d="M498.92 330.57L501.02 332.67L498.92 334.77L496.82 332.67Z" class="o"/>
<path d="M503.37 330.48L505.47 332.58L503.37 334.68L501.27 332.58Z" class="o"/>
<path d="M507.81 335.39L509.91 337.49L507.81 339.59L505.71 337.49Z" class="o"/>
<path d="M512.26 336.45L514.36 338.55L512.26 340.65L510.16 338.55Z" class="o"/>
<path d="M316.70 337.68L321.14 338.33L325.59 338.34L330.03 338.33L334.48 338.30L338.92 338.55L343.37 338.10L347.81 338.20L352.26 337.82L356.70 337.13L361.14 331.95L365.59 320.47L370.03 297.06L374.48 264.08L378.92 238.55L383.37 232.16L387.81 237.48L392.26 259.11L396.70 271.53L401.14 280.39L405.59 288.19L410.03 300.96L414.48 301.67L418.92 310.89L423.37 310.89L427.81 314.08L432.26 318.69L436.70 322.59L441.14 324.37L445.59 327.91L450.03 327.92L454.48 328.51L458.92 329.02L463.37 327.49L467.81 333.45L472.26 330.27L476.70 329.38L481.14 327.83L485.59 330.76L490.03 327.31L494.48 330.00L498.92 330.85L503.37 331.43L507.81 325.18L512.26 333.38" class="ln"/>
<rect x="314.75" y="335.73" width="3.90" height="3.90" class="o"/>
<rect x="319.19" y="336.38" width="3.90" height="3.90" class="o"/>
<rect x="323.64" y="336.39" width="3.90" height="3.90" class="o"/>
<rect x="328.08" y="336.38" width="3.90" height="3.90" class="o"/>
<rect x="332.53" y="336.35" width="3.90" height="3.90" class="o"/>
<rect x="336.97" y="336.60" width="3.90" height="3.90" class="o"/>
<rect x="341.42" y="336.15" width="3.90" height="3.90" class="o"/>
<rect x="345.86" y="336.25" width="3.90" height="3.90" class="o"/>
<rect x="350.31" y="335.87" width="3.90" height="3.90" class="o"/>
<rect x="354.75" y="335.18" width="3.90" height="3.90" class="o"/>
<rect x="359.19" y="330.00" width="3.90" height="3.90" class="o"/>
<rect x="363.64" y="318.52" width="3.90" height="3.90" class="o"/>
<rect x="368.08" y="295.11" width="3.90" height="3.90" class="o"/>
<rect x="372.53" y="262.13" width="3.90" height="3.90" class="o"/>
<rect x="376.97" y="236.60" width="3.90" height="3.90" class="o"/>
<rect x="381.42" y="230.21" width="3.90" height="3.90" class="o"/>
<rect x="385.86" y="235.53" width="3.90" height="3.90" class="o"/>
<rect x="390.31" y="257.16" width="3.90" height="3.90" class="o"/>
<rect x="394.75" y="269.58" width="3.90" height="3.90" class="o"/>
<rect x="399.19" y="278.44" width="3.90" height="3.90" class="o"/>
<rect x="403.64" y="286.24" width="3.90" height="3.90" class="o"/>
<rect x="408.08" y="299.01" width="3.90" height="3.90" class="o"/>
<rect x="412.53" y="299.72" width="3.90" height="3.90" class="o"/>
<rect x="416.97" y="308.94" width="3.90" height="3.90" class="o"/>
<rect x="421.42" y="308.94" width="3.90" height="3.90" class="o"/>
<rect x="425.86" y="312.13" width="3.90" height="3.90" class="o"/>
<rect x="430.31" y="316.74" width="3.90" height="3.90" class="o"/>
<rect x="434.75" y="320.64" width="3.90" height="3.90" class="o"/>
<rect x="439.19" y="322.42" width="3.90" height="3.90" class="o"/>
<rect x="443.64" y="325.96" width="3.90" height="3.90" class="o"/>
<rect x="448.08" y="325.97" width="3.90" height="3.90" class="o"/>
<rect x="452.53" y="326.56" width="3.90" height="3.90" class="o"/>
<rect x="456.97" y="327.07" width="3.90" height="3.90" class="o"/>
<rect x="461.42" y="325.54" width="3.90" height="3.90" class="o"/>
<rect x="465.86" y="331.50" width="3.90" height="3.90" class="o"/>
<rect x="470.31" y="328.32" width="3.90" height="3.90" class="o"/>
<rect x="474.75" y="327.43" width="3.90" height="3.90" class="o"/>
<rect x="479.19" y="325.88" width="3.90" height="3.90" class="o"/>
<rect x="483.64" y="328.81" width="3.90" height="3.90" class="o"/>
<rect x="488.08" y="325.36" width="3.90" height="3.90" class="o"/>
<rect x="492.53" y="328.05" width="3.90" height="3.90" class="o"/>
<rect x="496.97" y="328.90" width="3.90" height="3.90" class="o"/>
<rect x="501.42" y="329.48" width="3.90" height="3.90" class="o"/>
<rect x="505.86" y="323.23" width="3.90" height="3.90" class="o"/>
<rect x="510.31" y="331.43" width="3.90" height="3.90" class="o"/>
<path d="M316.70 338.02L321.14 338.07L325.59 338.43L330.03 338.15L334.48 337.49L338.92 333.59L343.37 325.07L347.81 299.89L352.26 267.63L356.70 236.77L361.14 228.62L365.59 234.64L370.03 249.89L374.48 264.08L378.92 276.13L383.37 289.26L387.81 297.77L392.26 303.09L396.70 307.34L401.14 310.18L405.59 310.89L410.03 311.60L414.48 319.05L418.92 324.01L423.37 322.59L427.81 324.36L432.26 324.01L436.70 323.66L441.14 326.14L445.59 328.62L450.03 328.60L454.48 330.98L458.92 331.23L463.37 330.93L467.81 332.70L472.26 330.39L476.70 328.33L481.14 328.27L485.59 324.63L490.03 325.71L494.48 325.39L498.92 323.30L503.37 326.15L507.81 329.77L512.26 332.06" class="ln"/>
<circle cx="316.70" cy="338.02" r="1.95" class="o"/>
<circle cx="321.14" cy="338.07" r="1.95" class="o"/>
<circle cx="325.59" cy="338.43" r="1.95" class="o"/>
<circle cx="330.03" cy="338.15" r="1.95" class="o"/>
<circle cx="334.48" cy="337.49" r="1.95" class="o"/>
<circle cx="338.92" cy="333.59" r="1.95" class="o"/>
<circle cx="343.37" cy="325.07" r="1.95" class="o"/>
<circle cx="347.81" cy="299.89" r="1.95" class="o"/>
<circle cx="352.26" cy="267.63" r="1.95" class="o"/>
<circle cx="356.70" cy="236.77" r="1.95" class="o"/>
<circle cx="361.14" cy="228.62" r="1.95" class="o"/>
<circle cx="365.59" cy="234.64" r="1.95" class="o"/>
<circle cx="370.03" cy="249.89" r="1.95" class="o"/>
<circle cx="374.48" cy="264.08" r="1.95" class="o"/>
<circle cx="378.92" cy="276.13" r="1.95" class="o"/>
<circle cx="383.37" cy="289.26" r="1.95" class="o"/>
<circle cx="387.81" cy="297.77" r="1.95" class="o"/>
<circle cx="392.26" cy="303.09" r="1.95" class="o"/>
<circle cx="396.70" cy="307.34" r="1.95" class="o"/>
<circle cx="401.14" cy="310.18" r="1.95" class="o"/>
<circle cx="405.59" cy="310.89" r="1.95" class="o"/>
<circle cx="410.03" cy="311.60" r="1.95" class="o"/>
<circle cx="414.48" cy="319.05" r="1.95" class="o"/>
<circle cx="418.92" cy="324.01" r="1.95" class="o"/>
<circle cx="423.37" cy="322.59" r="1.95" class="o"/>
<circle cx="427.81" cy="324.36" r="1.95" class="o"/>
<circle cx="432.26" cy="324.01" r="1.95" class="o"/>
<circle cx="436.70" cy="323.66" r="1.95" class="o"/>
<circle cx="441.14" cy="326.14" r="1.95" class="o"/>
<circle cx="445.59" cy="328.62" r="1.95" class="o"/>
<circle cx="450.03" cy="328.60" r="1.95" class="o"/>
<circle cx="454.48" cy="330.98" r="1.95" class="o"/>
<circle cx="458.92" cy="331.23" r="1.95" class="o"/>
<circle cx="463.37" cy="330.93" r="1.95" class="o"/>
<circle cx="467.81" cy="332.70" r="1.95" class="o"/>
<circle cx="472.26" cy="330.39" r="1.95" class="o"/>
<circle cx="476.70" cy="328.33" r="1.95" class="o"/>
<circle cx="481.14" cy="328.27" r="1.95" class="o"/>
<circle cx="485.59" cy="324.63" r="1.95" class="o"/>
<circle cx="490.03" cy="325.71" r="1.95" class="o"/>
<circle cx="494.48" cy="325.39" r="1.95" class="o"/>
<circle cx="498.92" cy="323.30" r="1.95" class="o"/>
<circle cx="503.37" cy="326.15" r="1.95" class="o"/>
<circle cx="507.81" cy="329.77" r="1.95" class="o"/>
<circle cx="512.26" cy="332.06" r="1.95" class="o"/>
<path d="M316.70 338.45L321.14 337.65L325.59 338.32L330.03 337.70L334.48 337.13L338.92 329.69L343.37 304.86L347.81 273.65L352.26 245.29L356.70 235.71L361.14 242.80L365.59 253.79L370.03 269.04L374.48 285.36L378.92 297.77L383.37 304.86L387.81 309.83L392.26 309.83L396.70 321.53L401.14 317.27L405.59 317.27L410.03 322.24L414.48 324.37L418.92 326.14L423.37 327.32L427.81 328.50L432.26 329.68L436.70 333.31L441.14 329.62L445.59 332.79L450.03 330.13L454.48 330.52L458.92 334.41L463.37 329.97L467.81 331.36L472.26 337.33L476.70 333.77L481.14 333.76L485.59 335.60L490.03 332.45L494.48 337.01L498.92 333.31L503.37 336.91L507.81 335.08L512.26 334.23" class="ln"/>
<path d="M316.70 335.65L318.90 340.25L314.50 340.25Z" class="o"/>
<path d="M321.14 334.85L323.34 339.45L318.94 339.45Z" class="o"/>
<path d="M325.59 335.52L327.79 340.12L323.39 340.12Z" class="o"/>
<path d="M330.03 334.90L332.23 339.50L327.83 339.50Z" class="o"/>
<path d="M334.48 334.33L336.68 338.93L332.28 338.93Z" class="o"/>
<path d="M338.92 326.89L341.12 331.49L336.72 331.49Z" class="o"/>
<path d="M343.37 302.06L345.57 306.66L341.17 306.66Z" class="o"/>
<path d="M347.81 270.85L350.01 275.45L345.61 275.45Z" class="o"/>
<path d="M352.26 242.49L354.46 247.09L350.06 247.09Z" class="o"/>
<path d="M356.70 232.91L358.90 237.51L354.50 237.51Z" class="o"/>
<path d="M361.14 240.00L363.34 244.60L358.94 244.60Z" class="o"/>
<path d="M365.59 250.99L367.79 255.59L363.39 255.59Z" class="o"/>
<path d="M370.03 266.24L372.23 270.84L367.83 270.84Z" class="o"/>
<path d="M374.48 282.56L376.68 287.16L372.28 287.16Z" class="o"/>
<path d="M378.92 294.97L381.12 299.57L376.72 299.57Z" class="o"/>
<path d="M383.37 302.06L385.57 306.66L381.17 306.66Z" class="o"/>
<path d="M387.81 307.03L390.01 311.63L385.61 311.63Z" class="o"/>
<path d="M392.26 307.03L394.46 311.63L390.06 311.63Z" class="o"/>
<path d="M396.70 318.73L398.90 323.33L394.50 323.33Z" class="o"/>
<path d="M401.14 314.47L403.34 319.07L398.94 319.07Z" class="o"/>
<path d="M405.59 314.47L407.79 319.07L403.39 319.07Z" class="o"/>
<path d="M410.03 319.44L412.23 324.04L407.83 324.04Z" class="o"/>
<path d="M414.48 321.57L416.68 326.17L412.28 326.17Z" class="o"/>
<path d="M418.92 323.34L421.12 327.94L416.72 327.94Z" class="o"/>
<path d="M423.37 324.52L425.57 329.12L421.17 329.12Z" class="o"/>
<path d="M427.81 325.70L430.01 330.30L425.61 330.30Z" class="o"/>
<path d="M432.26 326.88L434.46 331.48L430.06 331.48Z" class="o"/>
<path d="M436.70 330.51L438.90 335.11L434.50 335.11Z" class="o"/>
<path d="M441.14 326.82L443.34 331.42L438.94 331.42Z" class="o"/>
<path d="M445.59 329.99L447.79 334.59L443.39 334.59Z" class="o"/>
<path d="M450.03 327.33L452.23 331.93L447.83 331.93Z" class="o"/>
<path d="M454.48 327.72L456.68 332.32L452.28 332.32Z" class="o"/>
<path d="M458.92 331.61L461.12 336.21L456.72 336.21Z" class="o"/>
<path d="M463.37 327.17L465.57 331.77L461.17 331.77Z" class="o"/>
<path d="M467.81 328.56L470.01 333.16L465.61 333.16Z" class="o"/>
<path d="M472.26 334.53L474.46 339.13L470.06 339.13Z" class="o"/>
<path d="M476.70 330.97L478.90 335.57L474.50 335.57Z" class="o"/>
<path d="M481.14 330.96L483.34 335.56L478.94 335.56Z" class="o"/>
<path d="M485.59 332.80L487.79 337.40L483.39 337.40Z" class="o"/>
<path d="M490.03 329.65L492.23 334.25L487.83 334.25Z" class="o"/>
<path d="M494.48 334.21L496.68 338.81L492.28 338.81Z" class="o"/>
<path d="M498.92 330.51L501.12 335.11L496.72 335.11Z" class="o"/>
<path d="M503.37 334.11L505.57 338.71L501.17 338.71Z" class="o"/>
<path d="M507.81 332.28L510.01 336.88L505.61 336.88Z" class="o"/>
<path d="M512.26 331.43L514.46 336.03L510.06 336.03Z" class="o"/>
<path d="M316.70 338.41L321.14 338.06L325.59 338.13L330.03 337.65L334.48 337.13L338.92 326.85L343.37 307.70L347.81 278.97L352.26 255.92L356.70 239.96L361.14 244.57L365.59 249.89L370.03 261.60L374.48 274.36L378.92 286.42L383.37 299.19L387.81 299.54L392.26 304.15L396.70 312.31L401.14 311.24L405.59 314.08L410.03 315.85L414.48 316.92L418.92 319.75L423.37 320.11L427.81 330.39L432.26 320.82L436.70 329.68L441.14 320.11L445.59 327.91L450.03 324.87L454.48 331.41L458.92 328.43L463.37 331.60L467.81 330.01L472.26 333.16L476.70 329.22L481.14 332.53L485.59 324.44L490.03 325.75L494.48 327.81L498.92 323.15L503.37 328.30L507.81 329.46L512.26 337.20" class="ln"/>
<path d="M316.70 336.16L318.95 338.41L316.70 340.66L314.45 338.41Z" class="f"/>
<path d="M321.14 335.81L323.39 338.06L321.14 340.31L318.89 338.06Z" class="f"/>
<path d="M325.59 335.88L327.84 338.13L325.59 340.38L323.34 338.13Z" class="f"/>
<path d="M330.03 335.40L332.28 337.65L330.03 339.90L327.78 337.65Z" class="f"/>
<path d="M334.48 334.88L336.73 337.13L334.48 339.38L332.23 337.13Z" class="f"/>
<path d="M338.92 324.60L341.17 326.85L338.92 329.10L336.67 326.85Z" class="f"/>
<path d="M343.37 305.45L345.62 307.70L343.37 309.95L341.12 307.70Z" class="f"/>
<path d="M347.81 276.72L350.06 278.97L347.81 281.22L345.56 278.97Z" class="f"/>
<path d="M352.26 253.67L354.51 255.92L352.26 258.17L350.01 255.92Z" class="f"/>
<path d="M356.70 237.71L358.95 239.96L356.70 242.21L354.45 239.96Z" class="f"/>
<path d="M361.14 242.32L363.39 244.57L361.14 246.82L358.89 244.57Z" class="f"/>
<path d="M365.59 247.64L367.84 249.89L365.59 252.14L363.34 249.89Z" class="f"/>
<path d="M370.03 259.35L372.28 261.60L370.03 263.85L367.78 261.60Z" class="f"/>
<path d="M374.48 272.11L376.73 274.36L374.48 276.61L372.23 274.36Z" class="f"/>
<path d="M378.92 284.17L381.17 286.42L378.92 288.67L376.67 286.42Z" class="f"/>
<path d="M383.37 296.94L385.62 299.19L383.37 301.44L381.12 299.19Z" class="f"/>
<path d="M387.81 297.29L390.06 299.54L387.81 301.79L385.56 299.54Z" class="f"/>
<path d="M392.26 301.90L394.51 304.15L392.26 306.40L390.01 304.15Z" class="f"/>
<path d="M396.70 310.06L398.95 312.31L396.70 314.56L394.45 312.31Z" class="f"/>
<path d="M401.14 308.99L403.39 311.24L401.14 313.49L398.89 311.24Z" class="f"/>
<path d="M405.59 311.83L407.84 314.08L405.59 316.33L403.34 314.08Z" class="f"/>
<path d="M410.03 313.60L412.28 315.85L410.03 318.10L407.78 315.85Z" class="f"/>
<path d="M414.48 314.67L416.73 316.92L414.48 319.17L412.23 316.92Z" class="f"/>
<path d="M418.92 317.50L421.17 319.75L418.92 322.00L416.67 319.75Z" class="f"/>
<path d="M423.37 317.86L425.62 320.11L423.37 322.36L421.12 320.11Z" class="f"/>
<path d="M427.81 328.14L430.06 330.39L427.81 332.64L425.56 330.39Z" class="f"/>
<path d="M432.26 318.57L434.51 320.82L432.26 323.07L430.01 320.82Z" class="f"/>
<path d="M436.70 327.43L438.95 329.68L436.70 331.93L434.45 329.68Z" class="f"/>
<path d="M441.14 317.86L443.39 320.11L441.14 322.36L438.89 320.11Z" class="f"/>
<path d="M445.59 325.66L447.84 327.91L445.59 330.16L443.34 327.91Z" class="f"/>
<path d="M450.03 322.62L452.28 324.87L450.03 327.12L447.78 324.87Z" class="f"/>
<path d="M454.48 329.16L456.73 331.41L454.48 333.66L452.23 331.41Z" class="f"/>
<path d="M458.92 326.18L461.17 328.43L458.92 330.68L456.67 328.43Z" class="f"/>
<path d="M463.37 329.35L465.62 331.60L463.37 333.85L461.12 331.60Z" class="f"/>
<path d="M467.81 327.76L470.06 330.01L467.81 332.26L465.56 330.01Z" class="f"/>
<path d="M472.26 330.91L474.51 333.16L472.26 335.41L470.01 333.16Z" class="f"/>
<path d="M476.70 326.97L478.95 329.22L476.70 331.47L474.45 329.22Z" class="f"/>
<path d="M481.14 330.28L483.39 332.53L481.14 334.78L478.89 332.53Z" class="f"/>
<path d="M485.59 322.19L487.84 324.44L485.59 326.69L483.34 324.44Z" class="f"/>
<path d="M490.03 323.50L492.28 325.75L490.03 328.00L487.78 325.75Z" class="f"/>
<path d="M494.48 325.56L496.73 327.81L494.48 330.06L492.23 327.81Z" class="f"/>
<path d="M498.92 320.90L501.17 323.15L498.92 325.40L496.67 323.15Z" class="f"/>
<path d="M503.37 326.05L505.62 328.30L503.37 330.55L501.12 328.30Z" class="f"/>
<path d="M507.81 327.21L510.06 329.46L507.81 331.71L505.56 329.46Z" class="f"/>
<path d="M512.26 334.95L514.51 337.20L512.26 339.45L510.01 337.20Z" class="f"/>
<rect x="313.5" y="196.7" width="200.0" height="141.85000000000002" class="box"/>
<line x1="310.1" y1="338.55" x2="313.5" y2="338.55" class="ax"/>
<text x="306.3" y="342.50" class="tk" text-anchor="end">0</text>
<line x1="310.1" y1="303.09" x2="313.5" y2="303.09" class="ax"/>
<text x="306.3" y="307.04" class="tk" text-anchor="end">100</text>
<line x1="310.1" y1="267.62" x2="313.5" y2="267.62" class="ax"/>
<text x="306.3" y="271.57" class="tk" text-anchor="end">200</text>
<line x1="310.1" y1="232.16" x2="313.5" y2="232.16" class="ax"/>
<text x="306.3" y="236.11" class="tk" text-anchor="end">300</text>
<line x1="310.1" y1="196.70" x2="313.5" y2="196.70" class="ax"/>
<text x="306.3" y="200.65" class="tk" text-anchor="end">400</text>
<line x1="313.50" y1="338.55" x2="313.50" y2="341.75" class="ax"/>
<text x="313.50" y="355.40" class="tk" text-anchor="middle">0</text>
<line x1="353.50" y1="338.55" x2="353.50" y2="341.75" class="ax"/>
<text x="353.50" y="355.40" class="tk" text-anchor="middle">3</text>
<line x1="393.50" y1="338.55" x2="393.50" y2="341.75" class="ax"/>
<text x="393.50" y="355.40" class="tk" text-anchor="middle">6</text>
<line x1="433.50" y1="338.55" x2="433.50" y2="341.75" class="ax"/>
<text x="433.50" y="355.40" class="tk" text-anchor="middle">9</text>
<line x1="473.50" y1="338.55" x2="473.50" y2="341.75" class="ax"/>
<text x="474.20" y="355.40" class="tk" text-anchor="middle">12</text>
<line x1="513.50" y1="338.55" x2="513.50" y2="341.75" class="ax"/>
<text x="514.20" y="355.40" class="tk" text-anchor="middle">15</text>
<text x="413.50" y="370.85" class="at" text-anchor="middle">Time (min)</text>
<text transform="translate(278.90 267.10) rotate(-90)" class="at" text-anchor="middle">Thrombin (nM)</text>
<text x="321.0" y="215.0" class="tt">FV Leiden +APC</text>
<text x="270.1" y="207.2" class="lt">D</text>
</svg></body></html>
